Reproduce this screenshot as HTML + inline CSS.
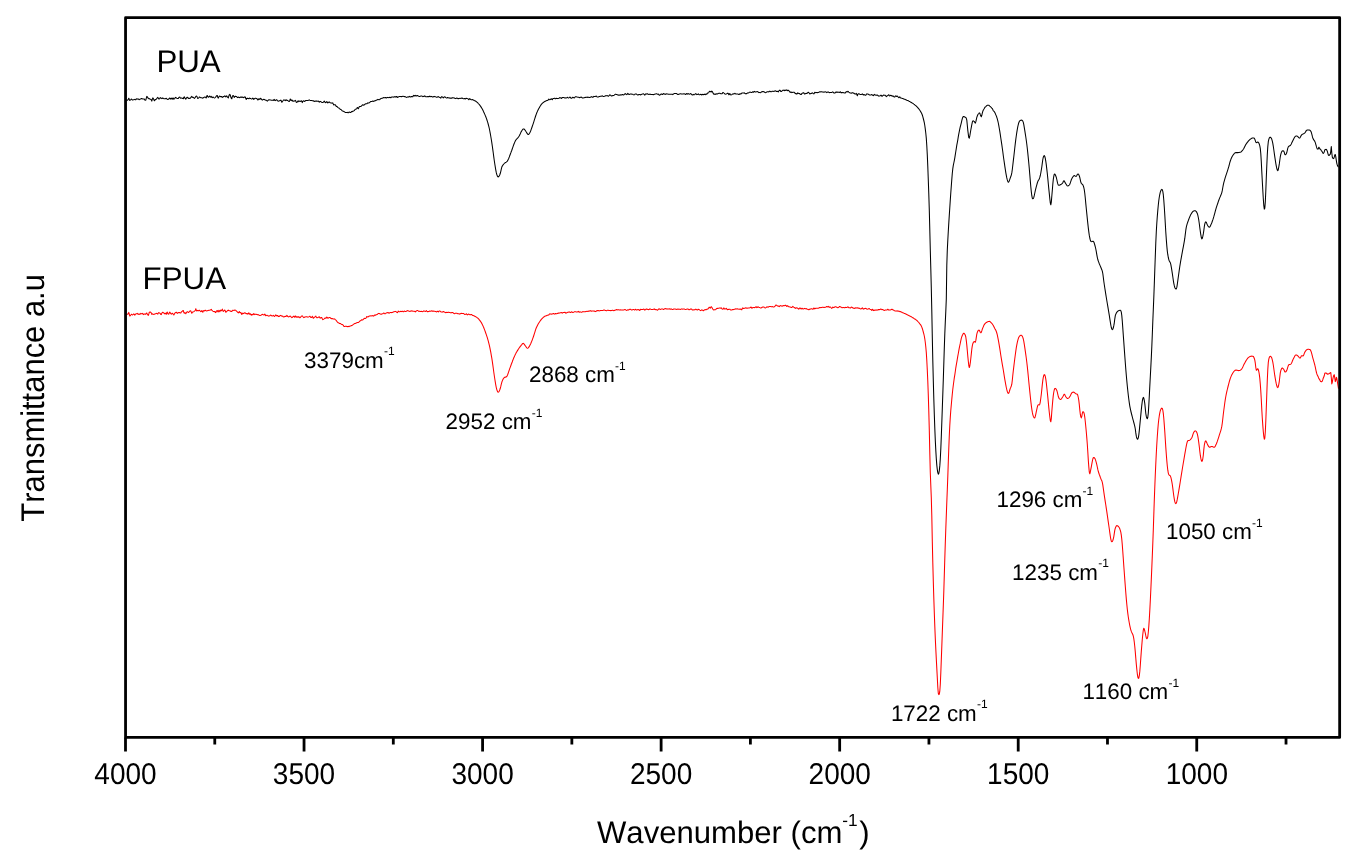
<!DOCTYPE html>
<html lang="en"><head><meta charset="utf-8"><title>FTIR spectra of PUA and FPUA</title>
<style>
html,body{margin:0;padding:0;background:#fff;}
body{width:1365px;height:863px;overflow:hidden;font-family:"Liberation Sans",Arial,sans-serif;}
svg{display:block;}
text{font-kerning:none;text-rendering:geometricPrecision;}
</style></head><body>
<svg width="1365" height="863" viewBox="0 0 1365 863">
<rect width="1365" height="863" fill="#fff"/>
<path d="M126.3,99.9 126.8,100.2 127.3,100.3 127.8,100.0 128.3,99.3 128.8,98.3 129.3,99.4 129.8,100.4 130.3,100.1 130.8,99.6 131.3,99.0 131.8,99.4 132.3,100.0 132.8,99.9 133.3,99.8 133.8,99.7 134.3,99.6 134.8,99.4 135.3,99.7 135.8,99.7 136.3,98.9 136.8,98.8 137.3,99.1 137.8,98.9 138.3,98.9 138.8,99.5 139.3,99.7 139.8,99.3 140.3,99.1 140.8,98.9 141.3,98.6 141.8,98.5 142.3,98.8 142.8,99.0 143.3,99.1 143.8,99.0 144.3,99.1 144.8,100.0 145.3,100.3 145.8,100.1 146.3,98.1 146.8,96.4 147.3,96.9 147.8,97.6 148.3,98.6 148.8,98.7 149.3,98.6 149.8,99.0 150.3,99.2 150.8,99.2 151.3,100.0 151.8,101.1 152.3,99.2 152.8,97.9 153.3,98.4 153.8,99.4 154.3,100.8 154.8,100.2 155.3,99.6 155.8,99.6 156.3,99.2 156.8,98.5 157.3,97.8 157.8,97.3 158.3,98.4 158.8,99.0 159.3,99.0 159.8,98.4 160.3,97.6 160.8,97.9 161.3,98.2 161.8,98.6 162.3,98.4 162.8,97.9 163.3,98.3 163.8,98.7 164.3,98.8 164.8,98.8 165.3,98.8 165.8,98.5 166.3,98.3 166.8,98.9 167.3,99.3 167.8,99.5 168.3,99.3 168.8,99.0 169.3,98.3 169.8,98.1 170.3,99.0 170.8,98.9 171.3,98.1 171.8,98.8 172.3,99.2 172.8,98.0 173.3,98.0 173.8,99.2 174.3,98.9 174.8,98.3 175.3,97.6 175.8,97.4 176.3,97.9 176.8,98.2 177.3,98.4 177.8,98.5 178.3,98.4 178.8,97.6 179.3,97.2 179.8,97.1 180.3,97.8 180.8,98.3 181.3,97.9 181.8,97.9 182.3,98.3 182.8,98.6 183.3,98.7 183.8,97.3 184.3,96.8 184.8,97.9 185.3,98.7 185.8,99.2 186.3,98.3 186.8,97.5 187.3,97.2 187.8,97.6 188.3,98.5 188.8,98.3 189.3,98.2 189.8,98.5 190.3,98.3 190.8,97.6 191.3,96.9 191.8,96.3 192.3,97.1 192.8,97.5 193.3,97.3 193.8,97.7 194.3,98.4 194.8,98.0 195.3,97.5 195.8,96.4 196.3,96.1 196.8,96.3 197.3,97.4 197.8,98.4 198.3,98.2 198.8,97.8 199.3,97.0 199.8,97.1 200.3,97.4 200.8,97.7 201.3,97.8 201.8,97.8 202.3,98.0 202.8,98.2 203.3,97.8 203.8,97.5 204.3,97.3 204.8,97.1 205.3,97.0 205.8,97.7 206.3,97.9 206.8,95.9 207.3,95.5 207.8,96.8 208.3,97.1 208.8,97.1 209.3,96.2 209.8,96.1 210.3,97.1 210.8,97.0 211.3,96.4 211.8,97.3 212.3,97.7 212.8,97.1 213.3,97.1 213.8,97.6 214.3,97.9 214.8,98.0 215.3,97.5 215.8,96.9 216.3,96.1 216.8,95.6 217.3,95.5 217.8,97.4 218.3,98.1 218.8,97.0 219.3,96.4 219.8,96.0 220.3,96.5 220.8,96.8 221.3,96.5 221.8,96.8 222.3,97.4 222.8,97.0 223.3,96.6 223.8,96.6 224.3,96.3 224.8,95.9 225.3,96.4 225.8,96.9 226.3,96.0 226.8,95.9 227.3,96.9 227.8,97.5 228.3,98.0 228.8,96.2 229.3,94.8 229.8,94.3 230.3,95.2 230.8,97.0 231.3,98.3 231.8,98.8 232.3,96.7 232.8,95.6 233.3,95.5 233.8,96.4 234.3,97.4 234.8,96.6 235.3,96.2 235.8,96.5 236.3,96.6 236.8,96.8 237.3,97.4 237.8,97.6 238.3,97.1 238.8,97.2 239.3,97.7 239.8,97.6 240.3,97.3 240.8,97.0 241.3,97.0 241.8,97.4 242.3,97.2 242.8,97.0 243.3,97.6 243.8,97.7 244.3,97.1 244.8,96.9 245.3,97.0 245.8,98.6 246.3,99.4 246.8,98.5 247.3,98.2 247.8,98.3 248.3,98.6 248.8,98.8 249.3,98.3 249.8,98.1 250.3,98.4 250.8,98.6 251.3,98.9 251.8,98.9 252.3,98.7 252.8,98.1 253.3,98.6 253.8,99.4 254.3,98.9 254.8,98.5 255.3,98.3 255.8,98.3 256.3,98.4 256.8,98.7 257.3,99.0 257.8,99.9 258.3,99.8 258.8,98.7 259.3,98.9 259.8,99.4 260.3,98.5 260.8,98.3 261.3,99.2 261.8,99.7 262.3,100.1 262.8,99.7 263.3,99.4 263.8,99.3 264.3,99.5 264.8,99.8 265.3,100.1 265.8,100.3 266.3,100.3 266.8,100.6 267.3,101.1 267.8,100.7 268.3,100.1 268.8,99.8 269.3,99.7 269.8,99.9 270.3,100.0 270.8,100.1 271.3,100.2 271.8,100.2 272.3,100.2 272.8,100.3 273.3,100.4 273.8,99.7 274.3,99.4 274.8,100.4 275.3,100.6 275.8,100.1 276.3,99.8 276.8,99.7 277.3,100.4 277.8,101.0 278.3,101.2 278.8,101.1 279.3,100.8 279.8,100.7 280.3,100.5 280.8,100.0 281.3,100.8 281.8,102.3 282.3,101.7 282.8,101.0 283.3,100.2 283.8,99.9 284.3,100.0 284.8,100.3 285.3,100.6 285.8,99.9 286.3,99.8 286.8,100.5 287.3,100.6 287.8,100.3 288.3,101.0 288.8,101.5 289.3,101.4 289.8,100.5 290.3,99.0 290.8,99.9 291.3,100.6 291.8,100.0 292.3,100.2 292.8,101.3 293.3,101.3 293.8,101.0 294.3,101.1 294.8,101.0 295.3,100.4 295.8,101.0 296.3,102.2 296.8,102.4 297.3,102.1 297.8,101.0 298.3,100.9 298.8,101.6 299.3,101.3 299.8,101.1 300.3,101.4 300.8,101.2 301.3,100.7 301.8,101.6 302.3,102.6 302.8,101.4 303.3,100.8 303.8,101.0 304.3,101.2 304.8,101.4 305.3,100.9 305.8,100.5 306.3,100.6 306.8,100.5 307.3,100.4 307.8,100.4 308.3,100.5 308.8,100.0 309.3,99.9 309.8,100.2 310.3,100.4 310.8,100.5 311.3,100.5 311.8,100.6 312.3,100.8 312.8,100.8 313.3,100.7 313.8,101.2 314.3,101.5 314.8,101.1 315.3,101.1 315.8,101.2 316.3,101.1 316.8,101.1 317.3,101.2 317.8,101.2 318.3,101.0 318.8,101.6 319.3,102.2 319.8,101.6 320.3,101.4 320.8,101.6 321.3,102.0 321.8,102.5 322.3,102.5 322.8,102.5 323.3,102.2 323.8,101.7 324.3,101.1 324.8,101.9 325.3,102.7 325.8,102.6 326.3,102.3 326.8,101.6 327.3,102.2 327.8,103.0 328.3,102.4 328.8,102.1 329.3,102.0 329.8,102.3 330.3,102.8 330.8,102.9 331.3,102.9 331.8,103.1 332.3,103.1 332.8,102.9 333.3,104.0 333.8,104.9 334.3,104.7 334.8,104.7 335.3,104.8 335.8,105.6 336.3,106.4 336.8,106.5 337.3,106.8 337.8,107.4 338.3,107.7 338.8,107.9 339.3,108.4 339.8,108.8 340.3,109.3 340.8,109.6 341.3,109.7 341.8,110.4 342.3,111.0 342.8,111.1 343.3,111.2 343.8,111.4 344.3,111.8 344.8,112.1 345.3,112.4 345.8,112.5 346.3,112.4 346.8,112.4 347.3,112.3 347.8,112.7 348.3,112.8 348.8,112.3 349.3,112.1 349.8,112.3 350.3,112.4 350.8,112.4 351.3,111.8 351.8,111.6 352.3,111.6 352.8,111.3 353.3,111.0 353.8,110.9 354.3,110.6 354.8,109.8 355.3,109.4 355.8,109.1 356.3,109.0 356.8,108.6 357.3,107.6 357.8,107.8 358.3,108.8 358.8,107.8 359.3,106.7 359.8,106.4 360.3,106.4 360.8,106.5 361.3,106.1 361.8,105.7 362.3,105.0 362.8,104.8 363.3,105.1 363.8,105.1 364.3,104.9 364.8,104.4 365.3,104.0 365.8,103.8 366.3,103.8 366.8,103.8 367.3,103.3 367.8,102.8 368.3,103.0 368.8,103.0 369.3,102.7 369.8,102.3 370.3,101.9 370.8,101.5 371.3,101.4 371.8,101.5 372.3,101.3 372.8,101.0 373.3,101.3 373.8,101.4 374.3,101.0 374.8,100.8 375.3,100.8 375.8,100.5 376.3,100.2 376.8,100.1 377.3,99.8 377.8,99.4 378.3,99.5 378.8,99.7 379.3,99.8 379.8,99.6 380.3,98.9 380.8,98.6 381.3,98.4 381.8,98.3 382.3,98.2 382.8,98.0 383.3,97.8 383.8,97.6 384.3,97.7 384.8,97.8 385.3,97.6 385.8,97.6 386.3,98.0 386.8,97.8 387.3,97.4 387.8,97.5 388.3,97.6 388.8,97.7 389.3,97.5 389.8,97.2 390.3,97.6 390.8,97.8 391.3,97.2 391.8,97.0 392.3,96.9 392.8,97.0 393.3,97.1 393.8,97.1 394.3,97.0 394.8,96.6 395.3,96.8 395.8,97.1 396.3,96.6 396.8,96.6 397.3,97.4 397.8,97.3 398.3,96.9 398.8,96.7 399.3,96.6 399.8,96.5 400.3,96.5 400.8,96.6 401.3,96.6 401.8,96.6 402.3,96.4 402.8,96.2 403.3,96.3 403.8,96.4 404.3,96.6 404.8,96.6 405.3,96.7 405.8,97.1 406.3,97.3 406.8,97.4 407.3,97.1 407.8,96.9 408.3,97.1 408.8,96.8 409.3,96.3 409.8,96.7 410.3,97.0 410.8,96.7 411.3,96.6 411.8,96.6 412.3,96.8 412.8,96.8 413.3,95.7 413.8,95.3 414.3,95.9 414.8,95.8 415.3,95.4 415.8,95.9 416.3,96.0 416.8,95.6 417.3,95.5 417.8,95.8 418.3,96.0 418.8,96.2 419.3,96.4 419.8,96.4 420.3,96.3 420.8,96.1 421.3,96.0 421.8,96.1 422.3,96.3 422.8,96.7 423.3,96.6 423.8,96.4 424.3,96.0 424.8,95.9 425.3,96.6 425.8,96.8 426.3,96.7 426.8,96.8 427.3,96.8 427.8,96.5 428.3,96.5 428.8,96.8 429.3,96.5 429.8,96.1 430.3,96.5 430.8,96.7 431.3,96.4 431.8,96.5 432.3,96.9 432.8,97.0 433.3,96.9 433.8,96.5 434.3,96.4 434.8,96.7 435.3,96.7 435.8,96.8 436.3,97.2 436.8,97.3 437.3,97.2 437.8,96.8 438.3,96.5 438.8,97.0 439.3,97.3 439.8,97.4 440.3,97.7 440.8,98.1 441.3,97.1 441.8,96.6 442.3,96.9 442.8,97.3 443.3,97.9 443.8,97.3 444.3,96.8 444.8,96.9 445.3,97.1 445.8,97.6 446.3,97.9 446.8,98.0 447.3,97.6 447.8,97.5 448.3,97.8 448.8,97.9 449.3,97.8 449.8,98.2 450.3,98.3 450.8,98.0 451.3,98.0 451.8,98.3 452.3,97.9 452.8,97.6 453.3,97.8 453.8,97.9 454.3,98.0 454.8,98.3 455.3,98.6 455.8,98.5 456.3,98.3 456.8,98.0 457.3,98.2 457.8,98.6 458.3,98.6 458.8,98.6 459.3,98.4 459.8,98.3 460.3,98.3 460.8,98.4 461.3,98.3 461.8,98.0 462.3,98.0 462.8,98.6 463.3,98.7 463.8,98.7 464.3,98.5 464.8,98.5 465.3,98.9 465.8,98.7 466.3,98.2 466.8,98.4 467.3,98.6 467.8,98.7 468.3,99.1 468.8,99.8 469.3,99.1 469.8,98.5 470.3,99.1 470.8,99.5 471.3,99.7 471.8,99.8 472.3,99.6 472.8,99.8 473.3,100.0 473.8,100.2 474.3,100.5 474.8,100.7 475.3,101.0 475.8,101.3 476.3,101.6 476.8,102.0 477.3,102.5 477.8,102.9 478.3,103.5 478.8,104.0 479.3,104.6 479.8,105.2 480.3,105.9 480.8,106.6 481.3,107.4 481.8,108.2 482.3,109.1 482.8,110.1 483.3,111.1 483.8,112.2 484.3,113.3 484.8,114.4 485.3,115.6 485.8,116.8 486.3,118.1 486.8,119.5 487.3,121.1 487.8,122.7 488.3,124.5 488.8,126.4 489.3,128.5 489.8,131.0 490.3,133.6 490.8,136.5 491.3,139.5 491.8,142.6 492.3,146.0 492.8,149.6 493.3,153.3 493.8,157.1 494.3,160.7 494.8,164.0 495.3,167.2 495.8,170.1 496.3,172.7 496.8,174.6 497.3,175.9 497.8,176.7 498.3,176.9 498.8,176.5 499.3,175.7 499.8,174.7 500.3,173.3 500.8,171.3 501.3,169.1 501.8,167.1 502.3,166.1 502.8,165.3 503.3,164.6 503.8,164.0 504.3,163.5 504.8,163.0 505.3,162.6 505.8,162.4 506.3,162.1 506.8,161.7 507.3,161.1 507.8,160.4 508.3,159.3 508.8,158.2 509.3,156.9 509.8,155.5 510.3,154.2 510.8,152.9 511.3,151.5 511.8,150.2 512.3,148.8 512.8,147.3 513.3,145.9 513.8,144.5 514.3,143.2 514.8,142.1 515.3,141.0 515.8,140.1 516.3,139.5 516.8,138.9 517.3,138.4 517.8,137.8 518.3,137.3 518.8,136.6 519.3,135.7 519.8,134.7 520.3,133.7 520.8,132.6 521.3,131.6 521.8,130.8 522.3,130.0 522.8,129.4 523.3,128.9 523.8,128.9 524.3,129.2 524.8,129.8 525.3,130.5 525.8,131.3 526.3,132.0 526.8,132.9 527.3,133.7 527.8,134.3 528.3,134.5 528.8,134.2 529.3,133.6 529.8,132.7 530.3,131.7 530.8,130.5 531.3,129.1 531.8,127.7 532.3,126.3 532.8,124.8 533.3,123.3 533.8,121.8 534.3,120.2 534.8,118.6 535.3,117.0 535.8,115.5 536.3,114.1 536.8,112.8 537.3,111.6 537.8,110.5 538.3,109.5 538.8,108.6 539.3,107.7 539.8,106.8 540.3,106.0 540.8,105.2 541.3,104.4 541.8,103.8 542.3,103.3 542.8,102.9 543.3,102.5 543.8,102.1 544.3,101.8 544.8,101.5 545.3,101.2 545.8,101.0 546.3,100.8 546.8,100.6 547.3,100.5 547.8,100.3 548.3,99.8 548.8,99.1 549.3,99.5 549.8,99.7 550.3,99.5 550.8,99.1 551.3,98.7 551.8,99.4 552.3,99.7 552.8,98.7 553.3,98.4 553.8,98.4 554.3,98.3 554.8,98.3 555.3,98.8 555.8,98.7 556.3,98.2 556.8,98.4 557.3,98.6 557.8,98.5 558.3,98.4 558.8,98.3 559.3,98.0 559.8,97.6 560.3,97.7 560.8,97.9 561.3,98.4 561.8,98.2 562.3,97.4 562.8,97.4 563.3,97.5 563.8,97.6 564.3,97.8 564.8,98.0 565.3,97.9 565.8,97.8 566.3,97.9 566.8,97.8 567.3,97.3 567.8,97.5 568.3,98.0 568.8,97.9 569.3,97.6 569.8,97.1 570.3,97.3 570.8,98.1 571.3,98.3 571.8,98.3 572.3,97.6 572.8,97.3 573.3,97.5 573.8,97.8 574.3,98.0 574.8,97.3 575.3,96.8 575.8,96.7 576.3,96.8 576.8,96.9 577.3,97.1 577.8,97.2 578.3,97.2 578.8,97.3 579.3,97.6 579.8,97.6 580.3,97.4 580.8,97.1 581.3,97.1 581.8,97.5 582.3,97.8 582.8,98.1 583.3,97.9 583.8,97.8 584.3,97.7 584.8,97.5 585.3,97.3 585.8,97.5 586.3,97.5 586.8,97.0 587.3,97.1 587.8,97.5 588.3,97.3 588.8,97.2 589.3,97.5 589.8,97.5 590.3,97.3 590.8,97.0 591.3,96.6 591.8,96.9 592.3,97.1 592.8,97.4 593.3,97.0 593.8,96.4 594.3,96.5 594.8,96.6 595.3,96.5 595.8,96.3 596.3,96.1 596.8,96.6 597.3,97.0 597.8,97.0 598.3,97.0 598.8,96.8 599.3,96.6 599.8,96.5 600.3,96.3 600.8,96.3 601.3,96.3 601.8,96.1 602.3,95.8 602.8,96.2 603.3,96.4 603.8,96.4 604.3,96.3 604.8,96.3 605.3,95.9 605.8,95.6 606.3,95.7 606.8,95.7 607.3,95.6 607.8,95.9 608.3,96.3 608.8,95.8 609.3,95.4 609.8,94.8 610.3,95.0 610.8,95.5 611.3,95.9 611.8,96.0 612.3,95.7 612.8,95.5 613.3,95.6 613.8,95.4 614.3,95.1 614.8,94.6 615.3,94.3 615.8,94.3 616.3,94.4 616.8,94.6 617.3,94.8 617.8,95.0 618.3,95.1 618.8,95.1 619.3,95.2 619.8,94.9 620.3,94.8 620.8,95.1 621.3,95.0 621.8,94.7 622.3,94.6 622.8,94.6 623.3,94.9 623.8,94.9 624.3,94.4 624.8,94.0 625.3,93.6 625.8,94.0 626.3,94.3 626.8,94.6 627.3,94.1 627.8,93.4 628.3,94.0 628.8,94.4 629.3,94.4 629.8,94.2 630.3,94.0 630.8,93.9 631.3,93.9 631.8,94.2 632.3,94.3 632.8,94.2 633.3,94.6 633.8,94.9 634.3,94.7 634.8,94.4 635.3,93.9 635.8,93.9 636.3,94.0 636.8,94.4 637.3,94.7 637.8,95.0 638.3,94.9 638.8,94.5 639.3,94.5 639.8,94.5 640.3,94.9 640.8,94.8 641.3,94.4 641.8,94.2 642.3,94.1 642.8,93.9 643.3,93.8 643.8,94.0 644.3,94.5 644.8,95.1 645.3,94.3 645.8,93.8 646.3,94.1 646.8,94.0 647.3,93.7 647.8,94.0 648.3,94.3 648.8,94.5 649.3,94.4 649.8,94.1 650.3,94.3 650.8,94.5 651.3,94.5 651.8,94.4 652.3,94.4 652.8,94.5 653.3,94.8 653.8,94.6 654.3,94.4 654.8,94.1 655.3,94.0 655.8,93.9 656.3,93.8 656.8,93.8 657.3,94.2 657.8,94.2 658.3,94.0 658.8,94.6 659.3,95.2 659.8,95.0 660.3,94.7 660.8,94.2 661.3,94.0 661.8,94.0 662.3,94.4 662.8,94.5 663.3,93.7 663.8,93.5 664.3,93.9 664.8,94.2 665.3,94.4 665.8,94.0 666.3,93.8 666.8,93.9 667.3,93.9 667.8,94.0 668.3,94.2 668.8,94.3 669.3,94.2 669.8,94.2 670.3,94.3 670.8,94.3 671.3,94.3 671.8,94.2 672.3,94.3 672.8,94.6 673.3,94.2 673.8,93.8 674.3,93.6 674.8,93.5 675.3,93.4 675.8,93.5 676.3,93.5 676.8,93.8 677.3,94.1 677.8,94.5 678.3,94.5 678.8,94.3 679.3,94.1 679.8,93.9 680.3,93.8 680.8,93.8 681.3,94.0 681.8,94.0 682.3,94.0 682.8,94.0 683.3,93.9 683.8,93.7 684.3,93.8 684.8,94.1 685.3,94.4 685.8,94.4 686.3,93.6 686.8,93.7 687.3,94.2 687.8,93.7 688.3,93.6 688.8,94.1 689.3,94.2 689.8,94.0 690.3,93.7 690.8,93.6 691.3,94.1 691.8,94.6 692.3,95.0 692.8,94.7 693.3,94.4 693.8,94.7 694.3,94.7 694.8,94.4 695.3,94.0 695.8,93.5 696.3,94.2 696.8,94.6 697.3,94.4 697.8,94.2 698.3,93.9 698.8,94.4 699.3,94.8 699.8,94.7 700.3,94.6 700.8,94.3 701.3,94.6 701.8,95.0 702.3,94.4 702.8,94.3 703.3,94.8 703.8,94.6 704.3,94.1 704.8,94.6 705.3,94.7 705.8,94.1 706.3,94.0 706.8,94.3 707.3,93.5 707.8,92.9 708.3,93.0 708.8,92.5 709.3,91.5 709.8,91.3 710.3,91.4 710.8,91.9 711.3,91.9 711.8,91.1 712.3,91.6 712.8,92.5 713.3,93.6 713.8,94.2 714.3,94.1 714.8,94.2 715.3,94.4 715.8,94.0 716.3,93.8 716.8,94.1 717.3,94.0 717.8,93.7 718.3,93.4 718.8,93.3 719.3,93.2 719.8,93.3 720.3,93.6 720.8,93.8 721.3,93.8 721.8,93.8 722.3,93.5 722.8,92.6 723.3,92.5 723.8,93.0 724.3,93.5 724.8,93.9 725.3,94.2 725.8,94.1 726.3,93.9 726.8,93.7 727.3,93.6 727.8,93.1 728.3,93.4 728.8,94.8 729.3,94.5 729.8,93.5 730.3,94.3 730.8,94.9 731.3,94.9 731.8,94.6 732.3,94.2 732.8,93.9 733.3,93.7 733.8,93.9 734.3,93.8 734.8,93.3 735.3,93.6 735.8,94.0 736.3,93.9 736.8,93.9 737.3,94.0 737.8,94.1 738.3,94.2 738.8,94.5 739.3,94.4 739.8,93.7 740.3,93.7 740.8,94.1 741.3,93.6 741.8,93.1 742.3,93.0 742.8,93.0 743.3,93.0 743.8,92.9 744.3,92.8 744.8,93.4 745.3,93.7 745.8,93.6 746.3,93.6 746.8,93.6 747.3,93.2 747.8,92.8 748.3,92.9 748.8,92.7 749.3,92.4 749.8,92.1 750.3,92.0 750.8,92.5 751.3,92.6 751.8,92.5 752.3,92.1 752.8,91.7 753.3,92.2 753.8,92.2 754.3,91.4 754.8,91.5 755.3,92.0 755.8,91.9 756.3,91.7 756.8,91.8 757.3,91.7 757.8,91.5 758.3,92.1 758.8,92.6 759.3,92.5 759.8,92.5 760.3,92.7 760.8,92.5 761.3,92.1 761.8,91.7 762.3,91.5 762.8,91.8 763.3,91.8 763.8,91.5 764.3,92.0 764.8,92.4 765.3,92.7 765.8,92.6 766.3,92.3 766.8,91.9 767.3,91.7 767.8,91.7 768.3,91.8 768.8,91.9 769.3,91.5 769.8,91.0 770.3,91.5 770.8,91.7 771.3,91.7 771.8,91.5 772.3,91.2 772.8,91.2 773.3,91.3 773.8,91.4 774.3,91.3 774.8,90.9 775.3,90.8 775.8,90.9 776.3,91.4 776.8,91.5 777.3,91.3 777.8,91.6 778.3,91.9 778.8,91.0 779.3,90.4 779.8,90.1 780.3,90.6 780.8,91.4 781.3,91.4 781.8,91.2 782.3,90.7 782.8,90.3 783.3,90.1 783.8,90.4 784.3,90.7 784.8,90.1 785.3,90.1 785.8,90.5 786.3,90.2 786.8,89.8 787.3,90.5 787.8,90.7 788.3,90.2 788.8,90.6 789.3,91.3 789.8,92.0 790.3,92.4 790.8,92.0 791.3,92.1 791.8,92.6 792.3,92.4 792.8,92.2 793.3,92.2 793.8,92.2 794.3,92.2 794.8,92.9 795.3,93.7 795.8,93.5 796.3,93.5 796.8,94.1 797.3,93.7 797.8,92.8 798.3,93.2 798.8,93.4 799.3,93.5 799.8,93.8 800.3,94.3 800.8,94.5 801.3,94.4 801.8,93.6 802.3,93.2 802.8,93.0 803.3,92.8 803.8,92.8 804.3,93.7 804.8,94.1 805.3,93.7 805.8,93.4 806.3,93.2 806.8,93.4 807.3,93.3 807.8,92.5 808.3,92.3 808.8,92.6 809.3,93.3 809.8,94.0 810.3,93.8 810.8,93.6 811.3,93.5 811.8,93.1 812.3,92.8 812.8,93.2 813.3,93.6 813.8,93.9 814.3,93.3 814.8,92.3 815.3,92.6 815.8,92.7 816.3,92.5 816.8,92.5 817.3,92.7 817.8,92.5 818.3,92.4 818.8,92.2 819.3,92.0 819.8,91.7 820.3,91.8 820.8,92.0 821.3,91.8 821.8,91.7 822.3,91.9 822.8,91.9 823.3,91.9 823.8,92.2 824.3,92.2 824.8,91.8 825.3,91.8 825.8,91.9 826.3,92.3 826.8,92.6 827.3,92.2 827.8,92.0 828.3,92.0 828.8,92.3 829.3,92.7 829.8,92.5 830.3,92.4 830.8,92.4 831.3,92.4 831.8,92.5 832.3,92.0 832.8,91.9 833.3,92.5 833.8,92.9 834.3,93.1 834.8,93.0 835.3,92.7 835.8,92.0 836.3,91.9 836.8,92.5 837.3,92.3 837.8,92.0 838.3,92.2 838.8,92.3 839.3,92.4 839.8,92.2 840.3,91.7 840.8,92.5 841.3,92.9 841.8,92.5 842.3,92.4 842.8,92.7 843.3,92.7 843.8,92.6 844.3,92.9 844.8,92.9 845.3,92.9 845.8,92.2 846.3,91.5 846.8,92.0 847.3,92.0 847.8,91.3 848.3,91.5 848.8,92.1 849.3,92.5 849.8,92.8 850.3,93.0 850.8,93.1 851.3,93.3 851.8,92.9 852.3,92.6 852.8,92.9 853.3,93.1 853.8,93.1 854.3,93.5 854.8,93.9 855.3,94.1 855.8,94.0 856.3,93.4 856.8,94.3 857.3,95.7 857.8,94.5 858.3,93.7 858.8,93.7 859.3,93.9 859.8,94.2 860.3,94.4 860.8,94.4 861.3,94.4 861.8,94.2 862.3,93.9 862.8,94.4 863.3,95.0 863.8,94.6 864.3,94.6 864.8,95.1 865.3,95.2 865.8,95.2 866.3,94.4 866.8,93.9 867.3,94.0 867.8,94.1 868.3,94.2 868.8,94.5 869.3,94.9 869.8,94.9 870.3,94.9 870.8,95.0 871.3,94.8 871.8,94.5 872.3,95.0 872.8,95.3 873.3,95.7 873.8,95.2 874.3,94.4 874.8,94.7 875.3,95.1 875.8,95.2 876.3,95.2 876.8,95.1 877.3,95.1 877.8,95.2 878.3,95.9 878.8,96.1 879.3,96.0 879.8,95.9 880.3,95.7 880.8,95.2 881.3,95.3 881.8,96.3 882.3,96.2 882.8,95.6 883.3,95.3 883.8,95.1 884.3,95.2 884.8,95.3 885.3,95.2 885.8,96.0 886.3,96.6 886.8,96.0 887.3,95.7 887.8,95.7 888.3,95.2 888.8,94.7 889.3,95.6 889.8,96.0 890.3,95.5 890.8,95.3 891.3,95.4 891.8,96.0 892.3,96.3 892.8,95.9 893.3,96.1 893.8,96.7 894.3,96.9 894.8,96.9 895.3,96.0 895.8,95.9 896.3,96.5 896.8,96.3 897.3,96.1 897.8,96.7 898.3,97.2 898.8,97.7 899.3,97.4 899.8,96.8 900.3,97.7 900.8,97.9 901.3,98.1 901.8,98.2 902.3,98.4 902.8,98.6 903.3,98.8 903.8,99.0 904.3,99.2 904.8,99.3 905.3,99.5 905.8,99.7 906.3,99.9 906.8,100.2 907.3,100.4 907.8,100.6 908.3,100.8 908.8,101.1 909.3,101.4 909.8,101.6 910.3,101.9 910.8,102.2 911.3,102.5 911.8,102.8 912.3,103.1 912.8,103.4 913.3,103.7 913.8,104.1 914.3,104.4 914.8,104.9 915.3,105.3 915.8,105.7 916.3,106.2 916.8,106.7 917.3,107.2 917.8,107.7 918.3,108.3 918.8,108.9 919.3,109.5 919.8,110.2 920.3,111.0 920.8,111.9 921.3,112.7 921.8,113.7 922.3,115.0 922.8,116.7 923.3,118.5 923.8,120.5 924.3,122.7 924.8,125.5 925.3,129.1 925.8,133.3 926.3,138.4 926.8,145.7 927.3,155.1 927.8,166.8 928.3,180.2 928.8,194.2 929.3,210.2 929.8,229.9 930.3,250.2 930.8,268.5 931.3,288.3 931.8,311.1 932.3,337.0 932.8,360.4 933.3,380.6 933.8,398.4 934.3,414.2 934.8,428.3 935.3,440.5 935.8,450.4 936.3,458.6 936.8,465.1 937.3,469.6 937.8,472.7 938.3,474.2 938.8,473.5 939.3,470.6 939.8,465.9 940.3,458.8 940.8,449.0 941.3,436.6 941.8,422.7 942.3,408.5 942.8,394.2 943.3,379.6 943.8,364.1 944.3,348.1 944.8,333.7 945.3,322.1 945.8,311.2 946.3,299.0 946.8,265.3 947.3,250.1 947.8,240.2 948.3,231.2 948.8,222.9 949.3,215.1 949.8,207.5 950.3,199.9 950.8,192.7 951.3,186.0 951.8,179.4 952.3,173.2 952.8,168.6 953.3,165.4 953.8,163.0 954.3,160.6 954.8,157.9 955.3,154.7 955.8,151.5 956.3,148.3 956.8,145.2 957.3,142.6 957.8,139.8 958.3,136.6 958.8,133.8 959.3,131.4 959.8,128.9 960.3,126.7 960.8,124.8 961.3,122.8 961.8,120.6 962.3,118.7 962.8,117.2 963.3,116.6 963.8,116.6 964.3,116.7 964.8,117.0 965.3,117.2 965.8,117.5 966.3,118.3 966.8,120.1 967.3,125.3 967.8,130.4 968.3,134.3 968.8,137.6 969.3,138.1 969.8,135.9 970.3,133.0 970.8,130.0 971.3,127.3 971.8,124.6 972.3,122.3 972.8,120.9 973.3,120.8 973.8,121.2 974.3,121.4 974.8,122.5 975.3,123.1 975.8,121.9 976.3,119.6 976.8,117.4 977.3,116.0 977.8,114.8 978.3,114.0 978.8,113.5 979.3,112.9 979.8,113.2 980.3,114.7 980.8,116.0 981.3,116.7 981.8,115.3 982.3,113.1 982.8,111.3 983.3,110.1 983.8,109.3 984.3,108.4 984.8,107.4 985.3,107.0 985.8,106.6 986.3,106.0 986.8,105.6 987.3,105.3 987.8,105.3 988.3,105.3 988.8,105.3 989.3,105.6 989.8,106.1 990.3,106.5 990.8,107.0 991.3,107.6 991.8,108.2 992.3,108.6 992.8,109.6 993.3,110.8 993.8,111.2 994.3,111.7 994.8,112.6 995.3,113.6 995.8,114.8 996.3,115.9 996.8,117.3 997.3,118.9 997.8,120.8 998.3,123.0 998.8,125.6 999.3,128.5 999.8,131.4 1000.3,134.6 1000.8,138.0 1001.3,141.4 1001.8,144.7 1002.3,148.2 1002.8,151.8 1003.3,155.8 1003.8,159.3 1004.3,162.6 1004.8,166.1 1005.3,169.4 1005.8,172.6 1006.3,175.4 1006.8,177.9 1007.3,179.9 1007.8,181.4 1008.3,182.3 1008.8,181.9 1009.3,180.8 1009.8,179.4 1010.3,177.9 1010.8,176.5 1011.3,175.1 1011.8,172.9 1012.3,169.5 1012.8,165.3 1013.3,160.9 1013.8,156.7 1014.3,152.2 1014.8,147.7 1015.3,143.4 1015.8,139.4 1016.3,135.7 1016.8,132.3 1017.3,129.3 1017.8,126.7 1018.3,124.5 1018.8,122.7 1019.3,121.5 1019.8,120.8 1020.3,120.4 1020.8,120.2 1021.3,120.1 1021.8,120.2 1022.3,120.5 1022.8,121.1 1023.3,122.4 1023.8,124.7 1024.3,127.6 1024.8,130.7 1025.3,133.8 1025.8,137.0 1026.3,140.5 1026.8,144.3 1027.3,148.5 1027.8,153.1 1028.3,158.1 1028.8,163.3 1029.3,168.7 1029.8,174.7 1030.3,180.9 1030.8,186.7 1031.3,191.6 1031.8,195.7 1032.3,198.2 1032.8,198.8 1033.3,198.6 1033.8,197.4 1034.3,195.4 1034.8,193.0 1035.3,190.6 1035.8,188.6 1036.3,186.6 1036.8,184.8 1037.3,183.0 1037.8,181.6 1038.3,180.6 1038.8,179.7 1039.3,178.7 1039.8,177.4 1040.3,175.5 1040.8,173.0 1041.3,170.0 1041.8,167.0 1042.3,163.1 1042.8,159.5 1043.3,157.2 1043.8,155.9 1044.3,155.6 1044.8,156.5 1045.3,158.4 1045.8,161.3 1046.3,164.9 1046.8,169.1 1047.3,173.5 1047.8,178.4 1048.3,183.7 1048.8,188.9 1049.3,193.6 1049.8,198.6 1050.3,202.9 1050.8,204.8 1051.3,202.1 1051.8,196.3 1052.3,190.5 1052.8,184.3 1053.3,179.4 1053.8,176.1 1054.3,174.2 1054.8,174.0 1055.3,174.7 1055.8,176.0 1056.3,177.4 1056.8,179.5 1057.3,181.8 1057.8,183.9 1058.3,185.1 1058.8,185.3 1059.3,185.3 1059.8,185.1 1060.3,184.8 1060.8,184.5 1061.3,184.2 1061.8,183.8 1062.3,183.4 1062.8,182.7 1063.3,181.5 1063.8,180.7 1064.3,181.0 1064.8,181.9 1065.3,182.9 1065.8,183.7 1066.3,184.5 1066.8,185.3 1067.3,185.8 1067.8,185.9 1068.3,185.8 1068.8,185.5 1069.3,185.0 1069.8,184.2 1070.3,182.9 1070.8,181.3 1071.3,179.8 1071.8,178.7 1072.3,177.8 1072.8,177.0 1073.3,176.3 1073.8,175.8 1074.3,175.6 1074.8,175.7 1075.3,176.1 1075.8,176.4 1076.3,176.2 1076.8,175.5 1077.3,174.6 1077.8,174.0 1078.3,174.0 1078.8,174.7 1079.3,175.9 1079.8,177.5 1080.3,179.8 1080.8,182.1 1081.3,183.3 1081.8,183.9 1082.3,184.2 1082.8,184.8 1083.3,185.9 1083.8,187.5 1084.3,189.9 1084.8,193.5 1085.3,198.3 1085.8,203.6 1086.3,208.7 1086.8,213.6 1087.3,218.6 1087.8,223.4 1088.3,227.9 1088.8,231.9 1089.3,235.4 1089.8,238.0 1090.3,240.0 1090.8,241.3 1091.3,241.7 1091.8,241.6 1092.3,241.4 1092.8,241.2 1093.3,241.3 1093.8,242.0 1094.3,243.3 1094.8,245.0 1095.3,246.9 1095.8,249.0 1096.3,251.7 1096.8,254.6 1097.3,257.3 1097.8,259.5 1098.3,261.1 1098.8,262.4 1099.3,263.7 1099.8,264.9 1100.3,266.1 1100.8,267.3 1101.3,268.5 1101.8,269.7 1102.3,271.2 1102.8,273.5 1103.3,277.2 1103.8,281.2 1104.3,284.7 1104.8,288.0 1105.3,291.2 1105.8,294.4 1106.3,297.5 1106.8,300.5 1107.3,303.5 1107.8,306.4 1108.3,309.4 1108.8,312.3 1109.3,315.3 1109.8,318.6 1110.3,321.9 1110.8,325.0 1111.3,327.5 1111.8,329.0 1112.3,329.6 1112.8,329.2 1113.3,327.8 1113.8,325.7 1114.3,322.8 1114.8,318.8 1115.3,315.7 1115.8,314.2 1116.3,313.1 1116.8,312.3 1117.3,311.7 1117.8,311.2 1118.3,310.9 1118.8,310.6 1119.3,310.4 1119.8,310.3 1120.3,310.3 1120.8,310.6 1121.3,312.2 1121.8,315.6 1122.3,321.2 1122.8,328.1 1123.3,335.2 1123.8,342.1 1124.3,349.1 1124.8,356.0 1125.3,362.8 1125.8,369.2 1126.3,375.2 1126.8,380.8 1127.3,386.0 1127.8,390.8 1128.3,395.2 1128.8,399.2 1129.3,402.9 1129.8,406.1 1130.3,408.7 1130.8,411.0 1131.3,413.0 1131.8,415.0 1132.3,416.9 1132.8,418.8 1133.3,420.7 1133.8,422.5 1134.3,424.3 1134.8,426.3 1135.3,429.0 1135.8,432.9 1136.3,436.2 1136.8,438.1 1137.3,439.1 1137.8,439.1 1138.3,437.9 1138.8,435.0 1139.3,430.6 1139.8,425.4 1140.3,420.2 1140.8,415.1 1141.3,409.9 1141.8,405.1 1142.3,401.2 1142.8,398.6 1143.3,397.4 1143.8,398.1 1144.3,400.4 1144.8,403.6 1145.3,408.6 1145.8,413.5 1146.3,416.4 1146.8,418.2 1147.3,418.7 1147.8,417.3 1148.3,413.0 1148.8,405.4 1149.3,396.0 1149.8,386.1 1150.3,376.7 1150.8,367.4 1151.3,357.6 1151.8,346.8 1152.3,334.4 1152.8,321.6 1153.3,309.6 1153.8,297.5 1154.3,284.1 1154.8,269.8 1155.3,255.9 1155.8,242.6 1156.3,231.7 1156.8,223.3 1157.3,216.4 1157.8,210.4 1158.3,205.0 1158.8,200.5 1159.3,197.0 1159.8,194.3 1160.3,192.1 1160.8,190.7 1161.3,189.8 1161.8,189.4 1162.3,189.7 1162.8,191.4 1163.3,194.7 1163.8,200.2 1164.3,207.2 1164.8,215.0 1165.3,223.7 1165.8,232.2 1166.3,239.4 1166.8,245.9 1167.3,251.1 1167.8,254.7 1168.3,257.5 1168.8,259.5 1169.3,261.0 1169.8,261.8 1170.3,262.7 1170.8,264.4 1171.3,267.1 1171.8,270.2 1172.3,273.3 1172.8,276.8 1173.3,280.3 1173.8,283.3 1174.3,285.7 1174.8,287.5 1175.3,288.4 1175.8,289.0 1176.3,288.9 1176.8,287.4 1177.3,284.3 1177.8,280.6 1178.3,277.0 1178.8,273.5 1179.3,269.9 1179.8,266.5 1180.3,263.3 1180.8,260.4 1181.3,257.6 1181.8,254.9 1182.3,252.1 1182.8,249.4 1183.3,246.8 1183.8,244.1 1184.3,241.4 1184.8,238.2 1185.3,234.1 1185.8,230.2 1186.3,227.2 1186.8,225.2 1187.3,223.4 1187.8,222.0 1188.3,220.6 1188.8,219.2 1189.3,217.9 1189.8,216.7 1190.3,215.6 1190.8,214.6 1191.3,213.7 1191.8,212.9 1192.3,212.2 1192.8,211.6 1193.3,211.2 1193.8,210.9 1194.3,210.8 1194.8,210.7 1195.3,210.8 1195.8,211.1 1196.3,211.6 1196.8,212.4 1197.3,213.4 1197.8,215.1 1198.3,217.5 1198.8,220.2 1199.3,223.7 1199.8,227.7 1200.3,231.4 1200.8,234.7 1201.3,237.5 1201.8,238.9 1202.3,238.4 1202.8,236.4 1203.3,233.9 1203.8,230.6 1204.3,226.7 1204.8,223.9 1205.3,222.4 1205.8,221.8 1206.3,222.3 1206.8,223.6 1207.3,224.8 1207.8,225.7 1208.3,226.4 1208.8,227.0 1209.3,227.2 1209.8,226.9 1210.3,226.1 1210.8,225.1 1211.3,223.9 1211.8,222.7 1212.3,221.3 1212.8,219.9 1213.3,218.3 1213.8,216.7 1214.3,214.9 1214.8,213.1 1215.3,211.2 1215.8,209.4 1216.3,207.7 1216.8,206.1 1217.3,204.6 1217.8,203.2 1218.3,201.7 1218.8,200.3 1219.3,198.9 1219.8,197.6 1220.3,196.5 1220.8,195.3 1221.3,194.1 1221.8,192.6 1222.3,190.4 1222.8,187.5 1223.3,184.8 1223.8,182.7 1224.3,180.8 1224.8,179.1 1225.3,177.4 1225.8,175.8 1226.3,174.3 1226.8,172.8 1227.3,171.3 1227.8,169.8 1228.3,168.2 1228.8,166.5 1229.3,164.6 1229.8,162.7 1230.3,161.0 1230.8,159.6 1231.3,158.3 1231.8,157.2 1232.3,156.3 1232.8,155.5 1233.3,154.8 1233.8,154.1 1234.3,153.5 1234.8,153.0 1235.3,152.7 1235.8,152.6 1236.3,152.6 1236.8,152.6 1237.3,152.6 1237.8,152.6 1238.3,152.6 1238.8,152.5 1239.3,152.4 1239.8,152.3 1240.3,152.2 1240.8,152.0 1241.3,151.7 1241.8,151.2 1242.3,150.7 1242.8,150.0 1243.3,149.3 1243.8,148.5 1244.3,147.5 1244.8,146.5 1245.3,145.5 1245.8,144.6 1246.3,143.8 1246.8,143.1 1247.3,142.4 1247.8,141.8 1248.3,141.2 1248.8,140.6 1249.3,140.1 1249.8,139.6 1250.3,139.2 1250.8,138.9 1251.3,138.5 1251.8,138.3 1252.3,138.1 1252.8,138.0 1253.3,138.0 1253.8,138.1 1254.3,138.3 1254.8,139.2 1255.3,140.7 1255.8,142.2 1256.3,142.7 1256.8,142.6 1257.3,142.3 1257.8,142.1 1258.3,142.2 1258.8,143.0 1259.3,144.2 1259.8,145.8 1260.3,148.6 1260.8,153.7 1261.3,161.9 1261.8,171.9 1262.3,181.2 1262.8,190.3 1263.3,198.7 1263.8,205.4 1264.3,209.1 1264.8,208.3 1265.3,202.0 1265.8,190.9 1266.3,177.5 1266.8,165.5 1267.3,154.4 1267.8,146.6 1268.3,141.7 1268.8,139.4 1269.3,138.0 1269.8,137.2 1270.3,137.2 1270.8,137.5 1271.3,138.2 1271.8,139.3 1272.3,141.1 1272.8,143.4 1273.3,146.3 1273.8,149.8 1274.3,153.4 1274.8,156.9 1275.3,160.2 1275.8,163.3 1276.3,166.1 1276.8,168.5 1277.3,170.2 1277.8,170.7 1278.3,169.5 1278.8,166.8 1279.3,163.9 1279.8,160.2 1280.3,156.7 1280.8,154.3 1281.3,152.6 1281.8,151.5 1282.3,150.9 1282.8,150.7 1283.3,150.8 1283.8,151.2 1284.3,152.4 1284.8,154.4 1285.3,154.8 1285.8,154.5 1286.3,153.7 1286.8,152.5 1287.3,150.4 1287.8,148.1 1288.3,146.9 1288.8,146.3 1289.3,146.1 1289.8,145.8 1290.3,145.5 1290.8,144.8 1291.3,143.9 1291.8,142.8 1292.3,141.7 1292.8,140.7 1293.3,139.7 1293.8,138.7 1294.3,137.8 1294.8,137.0 1295.3,136.4 1295.8,136.1 1296.3,136.0 1296.8,136.1 1297.3,136.2 1297.8,136.6 1298.3,137.1 1298.8,137.7 1299.3,138.1 1299.8,138.0 1300.3,137.3 1300.8,136.3 1301.3,135.3 1301.8,134.7 1302.3,134.4 1302.8,134.1 1303.3,133.9 1303.8,133.6 1304.3,133.3 1304.8,132.9 1305.3,132.3 1305.8,131.4 1306.3,130.6 1306.8,130.2 1307.3,130.0 1307.8,129.9 1308.3,129.9 1308.8,129.9 1309.3,130.0 1309.8,130.2 1310.3,130.6 1310.8,131.3 1311.3,132.3 1311.8,134.1 1312.3,136.2 1312.8,138.0 1313.3,139.1 1313.8,139.9 1314.3,140.6 1314.8,141.4 1315.3,142.6 1315.8,144.3 1316.3,146.2 1316.8,147.9 1317.3,149.0 1317.8,149.1 1318.3,148.9 1318.8,147.2 1319.3,147.8 1319.8,148.9 1320.3,149.1 1320.8,149.7 1321.3,150.6 1321.8,151.2 1322.3,151.9 1322.8,153.1 1323.3,153.4 1323.8,152.7 1324.3,151.7 1324.8,150.0 1325.3,149.4 1325.8,149.5 1326.3,149.4 1326.8,150.1 1327.3,151.2 1327.8,153.1 1328.3,154.9 1328.8,155.5 1329.3,155.3 1329.8,154.7 1330.3,154.1 1330.8,151.1 1331.3,146.5 1331.8,153.0 1332.3,157.0 1332.8,158.2 1333.3,158.6 1333.8,158.4 1334.3,156.9 1334.8,154.9 1335.3,154.5 1335.8,156.9 1336.3,160.4 1336.8,163.3 1337.3,165.0 1337.8,166.3 1338.3,167.0 1338.5,167.2" fill="none" stroke="#000" stroke-width="1.05" stroke-linejoin="round"/>
<path d="M126.3,314.8 126.8,314.4 127.3,314.1 127.8,314.1 128.3,313.5 128.8,312.4 129.3,314.3 129.8,316.0 130.3,315.6 130.8,315.0 131.3,314.2 131.8,314.5 132.3,315.0 132.8,314.7 133.3,314.3 133.8,313.9 134.3,314.3 134.8,315.1 135.3,314.4 135.8,313.9 136.3,313.8 136.8,313.7 137.3,313.4 137.8,314.0 138.3,314.4 138.8,314.1 139.3,314.1 139.8,314.4 140.3,314.0 140.8,313.4 141.3,313.8 141.8,313.8 142.3,313.3 142.8,313.7 143.3,314.6 143.8,314.3 144.3,314.0 144.8,314.1 145.3,314.1 145.8,314.1 146.3,313.4 146.8,313.0 147.3,314.0 147.8,314.8 148.3,315.4 148.8,314.0 149.3,312.2 149.8,312.1 150.3,312.1 150.8,312.2 151.3,313.1 151.8,314.4 152.3,314.0 152.8,313.8 153.3,314.3 153.8,314.4 154.3,314.2 154.8,313.9 155.3,313.7 155.8,313.7 156.3,313.6 156.8,313.3 157.3,313.7 157.8,314.1 158.3,313.0 158.8,312.5 159.3,312.9 159.8,313.2 160.3,313.6 160.8,314.4 161.3,314.6 161.8,313.2 162.3,312.5 162.8,312.3 163.3,312.6 163.8,312.9 164.3,313.7 164.8,313.8 165.3,313.2 165.8,313.7 166.3,314.3 166.8,312.5 167.3,312.1 167.8,313.7 168.3,314.2 168.8,314.1 169.3,312.8 169.8,312.1 170.3,312.9 170.8,313.6 171.3,314.1 171.8,313.6 172.3,313.2 172.8,313.7 173.3,314.3 173.8,315.0 174.3,314.2 174.8,313.1 175.3,312.8 175.8,312.5 176.3,312.2 176.8,312.7 177.3,313.4 177.8,312.9 178.3,312.6 178.8,312.6 179.3,312.6 179.8,312.6 180.3,312.9 180.8,313.0 181.3,312.1 181.8,311.5 182.3,311.2 182.8,310.7 183.3,310.5 183.8,312.4 184.3,313.3 184.8,312.6 185.3,312.9 185.8,313.7 186.3,312.8 186.8,312.1 187.3,311.7 187.8,311.8 188.3,312.4 188.8,312.2 189.3,311.8 189.8,311.1 190.3,310.8 190.8,311.0 191.3,312.1 191.8,313.3 192.3,312.4 192.8,311.9 193.3,311.9 193.8,311.6 194.3,311.2 194.8,310.9 195.3,310.4 195.8,308.7 196.3,310.0 196.8,311.0 197.3,310.6 197.8,310.4 198.3,310.7 198.8,310.7 199.3,310.2 199.8,310.6 200.3,311.2 200.8,311.7 201.3,311.6 201.8,310.5 202.3,311.1 202.8,312.3 203.3,311.1 203.8,310.5 204.3,310.9 204.8,310.8 205.3,310.2 205.8,310.5 206.3,310.7 206.8,310.9 207.3,310.8 207.8,310.6 208.3,310.4 208.8,310.2 209.3,310.3 209.8,310.2 210.3,310.1 210.8,309.8 211.3,309.4 211.8,310.1 212.3,310.7 212.8,311.1 213.3,311.4 213.8,311.6 214.3,311.5 214.8,311.6 215.3,312.6 215.8,312.5 216.3,311.3 216.8,310.8 217.3,310.5 217.8,311.8 218.3,311.9 218.8,310.3 219.3,310.6 219.8,311.7 220.3,310.7 220.8,310.1 221.3,310.8 221.8,310.4 222.3,309.1 222.8,310.4 223.3,311.5 223.8,310.9 224.3,310.4 224.8,310.0 225.3,311.0 225.8,312.3 226.3,311.8 226.8,311.3 227.3,310.9 227.8,310.5 228.3,310.1 228.8,310.5 229.3,310.7 229.8,310.7 230.3,310.9 230.8,311.4 231.3,311.5 231.8,311.4 232.3,310.6 232.8,310.2 233.3,310.3 233.8,310.4 234.3,310.4 234.8,310.0 235.3,310.0 235.8,310.5 236.3,310.9 236.8,311.3 237.3,311.9 237.8,312.4 238.3,312.9 238.8,312.5 239.3,311.5 239.8,312.2 240.3,312.9 240.8,312.5 241.3,313.0 241.8,314.5 242.3,314.0 242.8,313.1 243.3,313.6 243.8,313.5 244.3,312.9 244.8,312.7 245.3,312.9 245.8,313.5 246.3,313.8 246.8,313.5 247.3,313.7 247.8,314.2 248.3,313.3 248.8,312.8 249.3,314.0 249.8,314.3 250.3,313.7 250.8,314.4 251.3,315.2 251.8,314.5 252.3,314.3 252.8,314.9 253.3,314.4 253.8,313.6 254.3,314.3 254.8,314.6 255.3,314.2 255.8,314.2 256.3,314.3 256.8,314.6 257.3,314.7 257.8,314.6 258.3,314.7 258.8,315.0 259.3,315.2 259.8,315.4 260.3,315.4 260.8,315.3 261.3,315.1 261.8,314.7 262.3,314.3 262.8,314.5 263.3,314.8 263.8,315.0 264.3,314.7 264.8,314.1 265.3,314.9 265.8,315.7 266.3,315.4 266.8,315.3 267.3,315.3 267.8,315.7 268.3,316.1 268.8,316.0 269.3,315.9 269.8,315.8 270.3,315.4 270.8,315.0 271.3,315.5 271.8,315.9 272.3,315.9 272.8,315.7 273.3,315.3 273.8,315.9 274.3,316.4 274.8,316.2 275.3,315.7 275.8,314.9 276.3,315.3 276.8,316.0 277.3,315.5 277.8,315.6 278.3,316.4 278.8,316.6 279.3,316.5 279.8,315.9 280.3,315.4 280.8,315.5 281.3,315.8 281.8,316.2 282.3,316.1 282.8,316.2 283.3,316.8 283.8,317.0 284.3,316.8 284.8,316.5 285.3,316.2 285.8,316.5 286.3,316.3 286.8,315.4 287.3,315.8 287.8,316.6 288.3,316.8 288.8,316.9 289.3,316.5 289.8,316.3 290.3,316.1 290.8,316.6 291.3,317.0 291.8,317.6 292.3,317.5 292.8,316.9 293.3,316.4 293.8,316.1 294.3,317.1 294.8,317.2 295.3,316.0 295.8,316.3 296.3,317.2 296.8,316.8 297.3,316.7 297.8,317.3 298.3,317.2 298.8,316.6 299.3,317.3 299.8,317.8 300.3,317.5 300.8,316.9 301.3,316.2 301.8,316.0 302.3,315.9 302.8,316.5 303.3,317.1 303.8,317.6 304.3,317.4 304.8,317.0 305.3,316.9 305.8,316.8 306.3,316.7 306.8,316.8 307.3,317.1 307.8,317.0 308.3,316.9 308.8,316.9 309.3,316.6 309.8,316.2 310.3,316.7 310.8,317.5 311.3,317.5 311.8,317.2 312.3,316.3 312.8,317.0 313.3,318.3 313.8,317.8 314.3,317.4 314.8,317.0 315.3,316.6 315.8,316.1 316.3,317.0 316.8,317.8 317.3,317.8 317.8,317.6 318.3,317.3 318.8,316.9 319.3,316.7 319.8,317.8 320.3,318.2 320.8,317.7 321.3,317.5 321.8,317.6 322.3,318.8 322.8,319.6 323.3,319.4 323.8,319.1 324.3,318.7 324.8,318.2 325.3,317.9 325.8,318.3 326.3,318.0 326.8,317.0 327.3,317.5 327.8,318.3 328.3,318.0 328.8,317.7 329.3,317.6 329.8,317.5 330.3,317.8 330.8,318.3 331.3,318.6 331.8,318.6 332.3,318.6 332.8,318.7 333.3,318.9 333.8,319.0 334.3,318.9 334.8,319.1 335.3,319.6 335.8,320.0 336.3,320.5 336.8,321.3 337.3,321.9 337.8,322.5 338.3,322.8 338.8,322.9 339.3,323.4 339.8,323.6 340.3,323.5 340.8,323.8 341.3,324.2 341.8,324.4 342.3,324.6 342.8,324.8 343.3,325.3 343.8,326.3 344.3,326.5 344.8,326.5 345.3,326.3 345.8,326.2 346.3,326.3 346.8,326.5 347.3,326.7 347.8,326.4 348.3,326.3 348.8,326.7 349.3,326.5 349.8,326.0 350.3,326.0 350.8,326.0 351.3,325.6 351.8,325.4 352.3,325.2 352.8,324.9 353.3,324.4 353.8,324.1 354.3,323.8 354.8,323.6 355.3,323.4 355.8,323.2 356.3,323.0 356.8,322.8 357.3,322.6 357.8,322.5 358.3,322.5 358.8,322.1 359.3,321.6 359.8,321.1 360.3,320.8 360.8,320.7 361.3,320.2 361.8,319.7 362.3,319.9 362.8,319.9 363.3,319.4 363.8,318.9 364.3,318.2 364.8,318.4 365.3,318.5 365.8,318.3 366.3,317.6 366.8,316.6 367.3,316.7 367.8,316.9 368.3,316.8 368.8,316.5 369.3,315.9 369.8,315.9 370.3,315.9 370.8,315.7 371.3,315.7 371.8,315.9 372.3,315.8 372.8,315.6 373.3,316.0 373.8,316.1 374.3,315.2 374.8,315.0 375.3,315.3 375.8,315.0 376.3,314.7 376.8,314.6 377.3,314.4 377.8,313.9 378.3,313.6 378.8,313.4 379.3,313.6 379.8,313.8 380.3,314.1 380.8,314.2 381.3,314.3 381.8,314.0 382.3,313.8 382.8,313.7 383.3,313.4 383.8,313.0 384.3,313.4 384.8,313.8 385.3,313.7 385.8,313.4 386.3,312.9 386.8,312.8 387.3,312.8 387.8,312.6 388.3,312.6 388.8,313.1 389.3,313.1 389.8,312.8 390.3,312.6 390.8,312.5 391.3,312.6 391.8,312.6 392.3,312.5 392.8,312.3 393.3,312.1 393.8,311.8 394.3,311.7 394.8,311.6 395.3,311.5 395.8,311.4 396.3,311.9 396.8,312.3 397.3,312.7 397.8,312.1 398.3,311.1 398.8,311.5 399.3,311.8 399.8,311.8 400.3,311.6 400.8,311.2 401.3,311.4 401.8,311.6 402.3,311.2 402.8,311.3 403.3,311.8 403.8,311.5 404.3,311.1 404.8,311.3 405.3,311.4 405.8,311.5 406.3,311.3 406.8,311.1 407.3,310.7 407.8,310.6 408.3,310.9 408.8,311.1 409.3,311.4 409.8,311.3 410.3,311.1 410.8,311.2 411.3,311.1 411.8,310.8 412.3,310.9 412.8,311.2 413.3,311.3 413.8,311.3 414.3,311.2 414.8,311.4 415.3,311.9 415.8,311.4 416.3,311.0 416.8,310.8 417.3,310.6 417.8,310.5 418.3,311.0 418.8,311.5 419.3,311.2 419.8,311.2 420.3,311.4 420.8,311.4 421.3,311.3 421.8,311.6 422.3,311.7 422.8,311.6 423.3,311.3 423.8,310.9 424.3,311.1 424.8,311.3 425.3,311.4 425.8,311.2 426.3,310.6 426.8,311.2 427.3,311.7 427.8,311.6 428.3,311.6 428.8,311.5 429.3,311.3 429.8,311.1 430.3,311.2 430.8,311.2 431.3,310.8 431.8,311.0 432.3,311.3 432.8,311.1 433.3,311.1 433.8,311.3 434.3,311.3 434.8,311.2 435.3,311.4 435.8,311.6 436.3,311.9 436.8,311.7 437.3,311.2 437.8,311.5 438.3,312.0 438.8,311.3 439.3,310.9 439.8,310.9 440.3,311.3 440.8,311.8 441.3,311.9 441.8,312.0 442.3,312.1 442.8,311.9 443.3,311.5 443.8,311.8 444.3,312.1 444.8,312.2 445.3,312.4 445.8,312.7 446.3,312.6 446.8,312.3 447.3,312.5 447.8,312.5 448.3,312.2 448.8,312.3 449.3,312.5 449.8,312.5 450.3,312.6 450.8,312.9 451.3,312.8 451.8,312.5 452.3,312.5 452.8,312.6 453.3,313.0 453.8,313.4 454.3,313.7 454.8,313.5 455.3,313.3 455.8,313.3 456.3,313.3 456.8,313.2 457.3,313.4 457.8,313.8 458.3,313.7 458.8,313.7 459.3,314.1 459.8,314.0 460.3,313.7 460.8,313.5 461.3,313.3 461.8,313.4 462.3,313.5 462.8,313.4 463.3,313.4 463.8,313.5 464.3,314.1 464.8,314.5 465.3,314.4 465.8,314.1 466.3,313.7 466.8,314.4 467.3,314.9 467.8,314.6 468.3,314.3 468.8,314.1 469.3,314.4 469.8,314.7 470.3,314.7 470.8,314.6 471.3,314.6 471.8,314.5 472.3,315.2 472.8,315.4 473.3,315.6 473.8,315.8 474.3,316.0 474.8,316.3 475.3,316.6 475.8,316.8 476.3,317.1 476.8,317.4 477.3,317.8 477.8,318.2 478.3,318.7 478.8,319.2 479.3,319.8 479.8,320.4 480.3,321.1 480.8,321.8 481.3,322.6 481.8,323.4 482.3,324.4 482.8,325.5 483.3,326.6 483.8,327.8 484.3,329.1 484.8,330.4 485.3,331.8 485.8,333.2 486.3,334.6 486.8,336.1 487.3,337.7 487.8,339.4 488.3,341.2 488.8,343.1 489.3,345.1 489.8,347.3 490.3,349.8 490.8,352.4 491.3,355.3 491.8,358.2 492.3,361.4 492.8,364.8 493.3,368.5 493.8,372.2 494.3,375.7 494.8,379.0 495.3,382.1 495.8,385.1 496.3,387.6 496.8,389.6 497.3,391.1 497.8,392.0 498.3,392.2 498.8,391.8 499.3,390.9 499.8,389.7 500.3,388.3 500.8,386.4 501.3,384.2 501.8,382.3 502.3,380.9 502.8,379.8 503.3,378.8 503.8,378.1 504.3,377.5 504.8,377.2 505.3,377.1 505.8,377.1 506.3,376.9 506.8,376.4 507.3,375.5 507.8,374.3 508.3,372.9 508.8,371.4 509.3,369.9 509.8,368.4 510.3,367.1 510.8,365.7 511.3,364.3 511.8,363.0 512.3,361.7 512.8,360.3 513.3,359.1 513.8,357.8 514.3,356.7 514.8,355.6 515.3,354.5 515.8,353.6 516.3,352.6 516.8,351.7 517.3,350.9 517.8,350.1 518.3,349.3 518.8,348.5 519.3,347.8 519.8,347.1 520.3,346.4 520.8,345.8 521.3,345.2 521.8,344.6 522.3,343.9 522.8,343.4 523.3,343.3 523.8,343.7 524.3,344.4 524.8,345.1 525.3,345.8 525.8,346.5 526.3,347.2 526.8,347.8 527.3,348.2 527.8,348.2 528.3,347.8 528.8,347.2 529.3,346.4 529.8,345.5 530.3,344.6 530.8,343.5 531.3,342.3 531.8,341.1 532.3,339.8 532.8,338.4 533.3,337.0 533.8,335.5 534.3,333.9 534.8,332.3 535.3,330.7 535.8,329.2 536.3,327.8 536.8,326.7 537.3,325.7 537.8,324.7 538.3,323.8 538.8,323.0 539.3,322.2 539.8,321.5 540.3,320.8 540.8,320.1 541.3,319.4 541.8,318.8 542.3,318.3 542.8,317.8 543.3,317.4 543.8,317.0 544.3,316.6 544.8,316.3 545.3,316.1 545.8,315.9 546.3,315.7 546.8,315.5 547.3,315.3 547.8,315.2 548.3,315.0 548.8,315.0 549.3,314.2 549.8,313.8 550.3,314.0 550.8,314.1 551.3,314.3 551.8,314.1 552.3,313.9 552.8,313.7 553.3,313.6 553.8,313.6 554.3,313.9 554.8,314.1 555.3,313.6 555.8,313.5 556.3,313.7 556.8,313.7 557.3,313.6 557.8,313.3 558.3,313.1 558.8,313.3 559.3,313.1 559.8,312.9 560.3,312.8 560.8,312.7 561.3,312.5 561.8,312.7 562.3,313.1 562.8,312.8 563.3,312.6 563.8,312.5 564.3,312.4 564.8,312.2 565.3,312.7 565.8,313.2 566.3,312.9 566.8,312.7 567.3,312.5 567.8,312.3 568.3,312.2 568.8,312.0 569.3,311.9 569.8,312.3 570.3,312.4 570.8,312.4 571.3,312.0 571.8,311.8 572.3,312.3 572.8,312.5 573.3,312.4 573.8,312.1 574.3,311.7 574.8,311.8 575.3,311.8 575.8,311.8 576.3,311.9 576.8,312.0 577.3,311.9 577.8,311.8 578.3,311.4 578.8,311.7 579.3,312.3 579.8,312.1 580.3,311.9 580.8,312.1 581.3,312.2 581.8,312.2 582.3,311.9 582.8,311.6 583.3,311.7 583.8,311.8 584.3,311.8 584.8,311.8 585.3,311.8 585.8,311.6 586.3,311.4 586.8,311.3 587.3,311.3 587.8,311.4 588.3,311.2 588.8,311.1 589.3,311.1 589.8,311.0 590.3,310.6 590.8,310.9 591.3,311.3 591.8,311.0 592.3,310.9 592.8,310.9 593.3,311.0 593.8,311.1 594.3,311.1 594.8,311.3 595.3,311.6 595.8,311.5 596.3,311.1 596.8,310.7 597.3,310.5 597.8,310.8 598.3,310.8 598.8,310.6 599.3,310.8 599.8,310.9 600.3,310.6 600.8,310.5 601.3,310.4 601.8,310.4 602.3,310.5 602.8,310.4 603.3,310.3 603.8,310.0 604.3,310.0 604.8,310.2 605.3,310.4 605.8,310.5 606.3,310.7 606.8,310.7 607.3,310.3 607.8,310.2 608.3,310.2 608.8,310.4 609.3,310.5 609.8,310.5 610.3,310.6 610.8,310.8 611.3,310.6 611.8,310.4 612.3,310.2 612.8,310.3 613.3,310.6 613.8,310.7 614.3,310.6 614.8,310.2 615.3,310.0 615.8,310.1 616.3,309.8 616.8,309.5 617.3,309.8 617.8,309.9 618.3,309.7 618.8,309.8 619.3,309.9 619.8,309.9 620.3,309.8 620.8,309.9 621.3,309.9 621.8,309.9 622.3,310.0 622.8,310.1 623.3,310.0 623.8,309.9 624.3,309.7 624.8,309.6 625.3,309.5 625.8,310.0 626.3,310.3 626.8,310.4 627.3,310.1 627.8,309.7 628.3,309.9 628.8,309.9 629.3,309.4 629.8,309.2 630.3,309.2 630.8,309.5 631.3,309.7 631.8,310.1 632.3,310.0 632.8,309.5 633.3,309.4 633.8,309.5 634.3,310.0 634.8,310.0 635.3,309.2 635.8,309.4 636.3,309.9 636.8,309.9 637.3,309.8 637.8,309.6 638.3,309.6 638.8,309.7 639.3,310.2 639.8,310.4 640.3,309.6 640.8,309.3 641.3,309.4 641.8,309.5 642.3,309.5 642.8,309.4 643.3,309.2 643.8,309.1 644.3,309.5 644.8,310.1 645.3,309.8 645.8,309.4 646.3,309.0 646.8,309.0 647.3,309.2 647.8,309.4 648.3,309.6 648.8,309.6 649.3,309.4 649.8,308.9 650.3,309.1 650.8,309.3 651.3,309.4 651.8,309.5 652.3,309.5 652.8,309.5 653.3,309.5 653.8,309.0 654.3,308.9 654.8,309.6 655.3,309.7 655.8,309.4 656.3,309.6 656.8,309.9 657.3,310.2 657.8,309.9 658.3,309.3 658.8,309.0 659.3,308.8 659.8,309.2 660.3,309.4 660.8,309.2 661.3,309.1 661.8,309.0 662.3,308.9 662.8,308.9 663.3,309.5 663.8,309.5 664.3,309.0 664.8,308.8 665.3,308.6 665.8,308.8 666.3,308.9 666.8,308.7 667.3,308.9 667.8,309.1 668.3,309.0 668.8,308.9 669.3,308.7 669.8,308.9 670.3,309.3 670.8,309.0 671.3,308.9 671.8,309.2 672.3,309.4 672.8,309.5 673.3,309.2 673.8,308.9 674.3,308.9 674.8,308.9 675.3,309.1 675.8,309.3 676.3,309.4 676.8,309.2 677.3,309.1 677.8,309.2 678.3,309.2 678.8,309.1 679.3,309.2 679.8,309.3 680.3,309.4 680.8,309.2 681.3,308.9 681.8,309.0 682.3,309.0 682.8,309.2 683.3,309.1 683.8,309.0 684.3,309.1 684.8,309.3 685.3,309.4 685.8,309.4 686.3,309.3 686.8,309.2 687.3,309.0 687.8,309.0 688.3,309.2 688.8,309.7 689.3,309.8 689.8,309.6 690.3,309.2 690.8,308.9 691.3,309.0 691.8,309.3 692.3,309.9 692.8,310.0 693.3,309.9 693.8,309.7 694.3,309.6 694.8,309.9 695.3,309.6 695.8,309.1 696.3,309.4 696.8,309.8 697.3,310.0 697.8,309.7 698.3,309.2 698.8,309.4 699.3,309.7 699.8,310.1 700.3,310.4 700.8,310.6 701.3,310.2 701.8,309.8 702.3,310.1 702.8,310.4 703.3,310.8 703.8,310.5 704.3,309.9 704.8,309.7 705.3,309.6 705.8,309.8 706.3,309.7 706.8,309.2 707.3,309.2 707.8,309.1 708.3,308.4 708.8,307.8 709.3,307.2 709.8,307.6 710.3,308.2 710.8,307.1 711.3,306.7 711.8,307.3 712.3,308.2 712.8,309.1 713.3,309.7 713.8,309.9 714.3,309.7 714.8,309.7 715.3,309.7 715.8,309.4 716.3,309.0 716.8,308.4 717.3,308.2 717.8,308.4 718.3,308.3 718.8,308.2 719.3,308.1 719.8,308.0 720.3,308.1 720.8,308.1 721.3,307.9 721.8,308.6 722.3,309.1 722.8,309.3 723.3,308.8 723.8,307.9 724.3,308.5 724.8,309.1 725.3,309.0 725.8,308.8 726.3,308.3 726.8,309.0 727.3,309.8 727.8,309.5 728.3,309.3 728.8,309.4 729.3,309.3 729.8,309.2 730.3,309.7 730.8,310.0 731.3,310.0 731.8,309.9 732.3,309.6 732.8,309.6 733.3,309.6 733.8,309.4 734.3,309.2 734.8,309.3 735.3,309.1 735.8,308.8 736.3,309.0 736.8,309.0 737.3,308.8 737.8,308.9 738.3,309.1 738.8,309.2 739.3,309.2 739.8,309.1 740.3,309.1 740.8,309.3 741.3,309.7 741.8,309.7 742.3,308.3 742.8,307.9 743.3,308.5 743.8,308.4 744.3,308.2 744.8,308.2 745.3,308.1 745.8,307.8 746.3,308.0 746.8,308.3 747.3,308.2 747.8,308.0 748.3,307.9 748.8,307.9 749.3,307.9 749.8,307.8 750.3,307.6 750.8,307.1 751.3,307.3 751.8,308.2 752.3,308.0 752.8,307.6 753.3,307.4 753.8,307.4 754.3,307.7 754.8,307.6 755.3,307.3 755.8,306.8 756.3,306.8 756.8,307.6 757.3,307.5 757.8,306.7 758.3,307.0 758.8,307.3 759.3,307.4 759.8,307.6 760.3,307.9 760.8,307.9 761.3,307.9 761.8,307.5 762.3,307.2 762.8,306.9 763.3,306.9 763.8,307.0 764.3,307.4 764.8,307.7 765.3,307.9 765.8,307.7 766.3,307.3 766.8,307.0 767.3,306.8 767.8,307.2 768.3,307.2 768.8,306.7 769.3,306.6 769.8,306.5 770.3,306.5 770.8,306.6 771.3,306.8 771.8,306.7 772.3,306.6 772.8,306.8 773.3,306.9 773.8,306.9 774.3,306.7 774.8,306.5 775.3,305.7 775.8,305.0 776.3,305.1 776.8,305.4 777.3,305.9 777.8,305.9 778.3,305.9 778.8,306.5 779.3,306.6 779.8,305.9 780.3,305.7 780.8,305.6 781.3,305.9 781.8,306.1 782.3,306.1 782.8,305.9 783.3,305.5 783.8,305.7 784.3,305.8 784.8,305.4 785.3,305.2 785.8,305.3 786.3,305.9 786.8,306.5 787.3,305.8 787.8,305.7 788.3,306.5 788.8,306.8 789.3,306.8 789.8,306.9 790.3,307.1 790.8,307.3 791.3,307.4 791.8,307.4 792.3,306.8 792.8,306.4 793.3,306.8 793.8,307.2 794.3,307.4 794.8,307.9 795.3,308.4 795.8,307.9 796.3,307.7 796.8,307.9 797.3,308.1 797.8,308.3 798.3,308.9 798.8,309.1 799.3,308.3 799.8,308.1 800.3,308.1 800.8,308.7 801.3,309.0 801.8,308.3 802.3,308.3 802.8,309.0 803.3,309.0 803.8,308.8 804.3,308.5 804.8,308.4 805.3,308.8 805.8,308.8 806.3,308.6 806.8,309.0 807.3,309.2 807.8,309.3 808.3,309.5 808.8,309.8 809.3,309.5 809.8,309.1 810.3,309.1 810.8,309.0 811.3,308.8 811.8,308.8 812.3,309.0 812.8,309.2 813.3,309.0 813.8,308.1 814.3,308.3 814.8,308.9 815.3,308.5 815.8,308.2 816.3,308.3 816.8,308.3 817.3,308.3 817.8,308.3 818.3,308.3 818.8,308.1 819.3,307.8 819.8,307.5 820.3,307.6 820.8,307.7 821.3,307.5 821.8,307.4 822.3,307.2 822.8,307.2 823.3,307.3 823.8,307.5 824.3,307.5 824.8,307.3 825.3,307.2 825.8,307.2 826.3,306.8 826.8,306.5 827.3,306.9 827.8,306.8 828.3,306.3 828.8,306.8 829.3,307.4 829.8,306.9 830.3,306.9 830.8,307.5 831.3,308.0 831.8,308.5 832.3,307.6 832.8,307.0 833.3,307.5 833.8,307.6 834.3,307.3 834.8,307.0 835.3,306.8 835.8,306.7 836.3,306.9 836.8,307.3 837.3,307.6 837.8,307.8 838.3,307.5 838.8,307.1 839.3,306.6 839.8,306.6 840.3,306.7 840.8,306.9 841.3,307.3 841.8,307.7 842.3,307.7 842.8,307.5 843.3,307.4 843.8,307.5 844.3,307.8 844.8,307.7 845.3,307.4 845.8,307.3 846.3,307.4 846.8,307.4 847.3,307.2 847.8,306.8 848.3,307.1 848.8,307.8 849.3,307.8 849.8,307.8 850.3,308.0 850.8,307.7 851.3,307.1 851.8,307.2 852.3,307.4 852.8,308.0 853.3,308.2 853.8,308.0 854.3,308.3 854.8,308.5 855.3,307.9 855.8,307.7 856.3,308.0 856.8,308.0 857.3,307.8 857.8,308.1 858.3,308.3 858.8,308.1 859.3,308.2 859.8,308.5 860.3,308.7 860.8,308.9 861.3,308.8 861.8,308.5 862.3,307.8 862.8,308.3 863.3,309.1 863.8,309.0 864.3,308.8 864.8,308.4 865.3,308.3 865.8,308.4 866.3,308.7 866.8,309.0 867.3,309.2 867.8,309.1 868.3,308.9 868.8,308.6 869.3,308.5 869.8,309.1 870.3,309.4 870.8,309.4 871.3,309.9 871.8,310.4 872.3,309.4 872.8,309.2 873.3,310.4 873.8,310.6 874.3,310.4 874.8,310.0 875.3,309.9 875.8,310.3 876.3,310.2 876.8,309.8 877.3,310.0 877.8,310.1 878.3,309.6 878.8,309.5 879.3,309.8 879.8,309.6 880.3,309.3 880.8,309.1 881.3,309.2 881.8,309.6 882.3,309.6 882.8,309.5 883.3,309.9 883.8,310.2 884.3,310.4 884.8,310.3 885.3,309.9 885.8,309.9 886.3,310.0 886.8,310.0 887.3,309.8 887.8,309.2 888.3,309.6 888.8,310.1 889.3,310.0 889.8,310.0 890.3,310.0 890.8,309.8 891.3,309.5 891.8,309.3 892.3,309.3 892.8,309.8 893.3,310.1 893.8,310.3 894.3,310.6 894.8,310.9 895.3,310.9 895.8,310.9 896.3,311.1 896.8,311.0 897.3,310.8 897.8,311.2 898.3,311.3 898.8,311.1 899.3,311.3 899.8,311.7 900.3,311.6 900.8,311.8 901.3,312.0 901.8,312.2 902.3,312.5 902.8,312.7 903.3,312.9 903.8,313.1 904.3,313.4 904.8,313.6 905.3,313.8 905.8,314.0 906.3,314.2 906.8,314.5 907.3,314.7 907.8,315.0 908.3,315.2 908.8,315.5 909.3,315.7 909.8,316.0 910.3,316.3 910.8,316.5 911.3,316.8 911.8,317.1 912.3,317.4 912.8,317.7 913.3,318.0 913.8,318.3 914.3,318.7 914.8,319.0 915.3,319.3 915.8,319.6 916.3,320.0 916.8,320.5 917.3,320.9 917.8,321.4 918.3,322.0 918.8,322.5 919.3,323.1 919.8,323.8 920.3,324.4 920.8,325.1 921.3,326.0 921.8,327.1 922.3,328.5 922.8,330.2 923.3,332.0 923.8,333.9 924.3,336.0 924.8,338.8 925.3,342.5 925.8,347.0 926.3,352.5 926.8,360.5 927.3,370.2 927.8,381.6 928.3,395.2 928.8,411.5 929.3,430.2 929.8,453.0 930.3,472.8 930.8,485.6 931.3,497.8 931.8,516.0 932.3,541.3 932.8,562.8 933.3,581.3 933.8,598.0 934.3,612.7 934.8,626.2 935.3,638.4 935.8,649.1 936.3,659.0 936.8,668.4 937.3,677.8 937.8,687.2 938.3,693.2 938.8,694.6 939.3,694.1 939.8,691.2 940.3,684.3 940.8,672.9 941.3,659.8 941.8,646.4 942.3,632.7 942.8,619.3 943.3,605.8 943.8,591.5 944.3,574.9 944.8,558.6 945.3,543.1 945.8,528.8 946.3,515.4 946.8,502.3 947.3,489.8 947.8,476.5 948.3,461.7 948.8,448.0 949.3,435.4 949.8,425.2 950.3,417.1 950.8,410.3 951.3,404.7 951.8,399.2 952.3,394.0 952.8,389.3 953.3,385.3 953.8,381.5 954.3,377.9 954.8,374.8 955.3,371.5 955.8,367.8 956.3,364.9 956.8,362.2 957.3,359.1 957.8,356.2 958.3,353.5 958.8,350.7 959.3,347.9 959.8,345.5 960.3,343.2 960.8,340.6 961.3,338.4 961.8,336.7 962.3,335.4 962.8,334.4 963.3,333.5 963.8,333.2 964.3,333.5 964.8,334.2 965.3,335.2 965.8,337.0 966.3,340.6 966.8,345.1 967.3,350.5 967.8,356.2 968.3,361.2 968.8,365.5 969.3,367.5 969.8,366.0 970.3,362.7 970.8,358.5 971.3,353.9 971.8,349.2 972.3,345.8 972.8,343.7 973.3,342.5 973.8,341.9 974.3,341.5 974.8,341.9 975.3,342.3 975.8,340.7 976.3,337.4 976.8,334.1 977.3,332.3 977.8,331.2 978.3,330.4 978.8,330.1 979.3,330.2 979.8,331.2 980.3,332.3 980.8,332.8 981.3,332.3 981.8,330.9 982.3,329.2 982.8,327.9 983.3,326.8 983.8,325.5 984.3,324.6 984.8,323.9 985.3,323.3 985.8,322.9 986.3,322.5 986.8,322.2 987.3,321.9 987.8,321.7 988.3,321.5 988.8,321.4 989.3,321.3 989.8,321.4 990.3,321.8 990.8,322.3 991.3,322.8 991.8,323.3 992.3,324.0 992.8,324.7 993.3,325.5 993.8,326.5 994.3,327.5 994.8,328.5 995.3,329.4 995.8,330.2 996.3,331.5 996.8,333.0 997.3,334.9 997.8,337.3 998.3,339.9 998.8,342.7 999.3,345.6 999.8,348.7 1000.3,351.8 1000.8,355.3 1001.3,358.4 1001.8,361.4 1002.3,364.3 1002.8,367.2 1003.3,370.0 1003.8,373.2 1004.3,376.3 1004.8,379.3 1005.3,382.2 1005.8,384.9 1006.3,387.5 1006.8,389.7 1007.3,391.5 1007.8,392.8 1008.3,393.4 1008.8,393.0 1009.3,391.7 1009.8,390.0 1010.3,388.4 1010.8,387.3 1011.3,386.1 1011.8,384.2 1012.3,380.3 1012.8,375.3 1013.3,370.8 1013.8,366.6 1014.3,362.5 1014.8,358.5 1015.3,354.7 1015.8,351.1 1016.3,347.7 1016.8,344.8 1017.3,342.3 1017.8,340.3 1018.3,338.6 1018.8,337.3 1019.3,336.5 1019.8,335.9 1020.3,335.5 1020.8,335.3 1021.3,335.3 1021.8,335.6 1022.3,336.3 1022.8,337.4 1023.3,339.0 1023.8,341.3 1024.3,344.3 1024.8,347.6 1025.3,351.1 1025.8,354.6 1026.3,358.3 1026.8,362.3 1027.3,366.6 1027.8,371.4 1028.3,376.5 1028.8,381.7 1029.3,386.7 1029.8,391.6 1030.3,396.5 1030.8,401.1 1031.3,405.4 1031.8,409.1 1032.3,412.2 1032.8,414.6 1033.3,416.2 1033.8,417.3 1034.3,418.0 1034.8,417.8 1035.3,416.4 1035.8,414.1 1036.3,411.7 1036.8,409.4 1037.3,407.2 1037.8,405.4 1038.3,404.7 1038.8,404.8 1039.3,404.9 1039.8,404.2 1040.3,401.8 1040.8,398.2 1041.3,394.2 1041.8,389.6 1042.3,384.6 1042.8,380.4 1043.3,377.4 1043.8,375.4 1044.3,374.6 1044.8,375.0 1045.3,376.4 1045.8,379.1 1046.3,382.9 1046.8,387.5 1047.3,392.3 1047.8,397.1 1048.3,402.4 1048.8,407.6 1049.3,412.5 1049.8,416.8 1050.3,420.5 1050.8,421.8 1051.3,418.6 1051.8,411.7 1052.3,405.8 1052.8,400.1 1053.3,395.4 1053.8,392.0 1054.3,389.7 1054.8,388.5 1055.3,388.4 1055.8,388.7 1056.3,389.4 1056.8,390.4 1057.3,392.1 1057.8,394.3 1058.3,396.5 1058.8,397.9 1059.3,398.6 1059.8,399.1 1060.3,399.4 1060.8,399.4 1061.3,399.0 1061.8,398.3 1062.3,397.5 1062.8,396.7 1063.3,395.8 1063.8,394.8 1064.3,394.2 1064.8,394.6 1065.3,395.7 1065.8,396.7 1066.3,397.4 1066.8,398.0 1067.3,398.4 1067.8,398.4 1068.3,398.2 1068.8,397.8 1069.3,397.3 1069.8,396.7 1070.3,395.8 1070.8,394.7 1071.3,393.6 1071.8,392.9 1072.3,392.5 1072.8,392.3 1073.3,392.1 1073.8,392.2 1074.3,392.5 1074.8,392.9 1075.3,393.3 1075.8,393.7 1076.3,393.9 1076.8,394.0 1077.3,394.2 1077.8,395.3 1078.3,397.5 1078.8,400.4 1079.3,404.6 1079.8,409.9 1080.3,414.2 1080.8,416.8 1081.3,417.9 1081.8,416.3 1082.3,413.4 1082.8,411.7 1083.3,411.7 1083.8,412.5 1084.3,414.2 1084.8,417.3 1085.3,421.7 1085.8,426.7 1086.3,432.0 1086.8,437.9 1087.3,444.2 1087.8,451.8 1088.3,460.1 1088.8,466.8 1089.3,472.1 1089.8,473.8 1090.3,472.0 1090.8,469.4 1091.3,466.8 1091.8,464.1 1092.3,461.3 1092.8,459.0 1093.3,457.8 1093.8,457.5 1094.3,457.7 1094.8,458.3 1095.3,459.4 1095.8,460.9 1096.3,462.6 1096.8,464.7 1097.3,467.0 1097.8,469.4 1098.3,471.5 1098.8,473.0 1099.3,474.5 1099.8,475.8 1100.3,477.2 1100.8,478.5 1101.3,479.7 1101.8,480.7 1102.3,482.3 1102.8,484.9 1103.3,488.3 1103.8,491.9 1104.3,495.3 1104.8,498.6 1105.3,501.8 1105.8,505.0 1106.3,508.3 1106.8,511.7 1107.3,515.1 1107.8,518.6 1108.3,522.1 1108.8,525.5 1109.3,529.0 1109.8,532.6 1110.3,536.1 1110.8,539.1 1111.3,541.1 1111.8,541.8 1112.3,541.6 1112.8,540.5 1113.3,538.8 1113.8,536.6 1114.3,533.4 1114.8,530.1 1115.3,528.2 1115.8,526.9 1116.3,526.0 1116.8,525.6 1117.3,525.7 1117.8,526.0 1118.3,526.4 1118.8,527.0 1119.3,527.7 1119.8,528.8 1120.3,530.3 1120.8,532.1 1121.3,535.1 1121.8,539.4 1122.3,545.0 1122.8,551.7 1123.3,558.8 1123.8,566.0 1124.3,572.8 1124.8,579.6 1125.3,586.3 1125.8,592.8 1126.3,598.9 1126.8,604.3 1127.3,609.2 1127.8,613.4 1128.3,617.0 1128.8,620.2 1129.3,623.0 1129.8,625.6 1130.3,627.8 1130.8,629.8 1131.3,631.4 1131.8,632.5 1132.3,633.5 1132.8,634.5 1133.3,636.1 1133.8,638.6 1134.3,642.3 1134.8,646.7 1135.3,652.1 1135.8,658.2 1136.3,664.1 1136.8,669.3 1137.3,673.8 1137.8,677.0 1138.3,678.4 1138.8,678.1 1139.3,675.7 1139.8,671.4 1140.3,665.3 1140.8,658.1 1141.3,651.4 1141.8,645.2 1142.3,639.3 1142.8,634.3 1143.3,630.1 1143.8,628.2 1144.3,629.1 1144.8,631.0 1145.3,633.1 1145.8,635.7 1146.3,637.9 1146.8,638.7 1147.3,638.4 1147.8,636.6 1148.3,632.3 1148.8,626.4 1149.3,619.1 1149.8,610.4 1150.3,600.7 1150.8,590.3 1151.3,579.3 1151.8,567.8 1152.3,555.7 1152.8,543.2 1153.3,529.8 1153.8,514.8 1154.3,500.0 1154.8,486.8 1155.3,474.6 1155.8,463.4 1156.3,453.3 1156.8,444.3 1157.3,436.5 1157.8,429.6 1158.3,423.8 1158.8,419.3 1159.3,415.7 1159.8,412.8 1160.3,410.7 1160.8,409.4 1161.3,408.5 1161.8,408.1 1162.3,408.4 1162.8,410.2 1163.3,413.4 1163.8,418.5 1164.3,424.9 1164.8,431.9 1165.3,439.7 1165.8,447.4 1166.3,454.3 1166.8,460.6 1167.3,466.0 1167.8,470.2 1168.3,473.1 1168.8,474.6 1169.3,475.2 1169.8,475.4 1170.3,475.9 1170.8,477.1 1171.3,479.1 1171.8,481.6 1172.3,484.5 1172.8,488.1 1173.3,492.3 1173.8,496.0 1174.3,499.1 1174.8,501.7 1175.3,503.2 1175.8,503.6 1176.3,503.2 1176.8,501.6 1177.3,499.2 1177.8,496.3 1178.3,493.5 1178.8,490.6 1179.3,487.6 1179.8,484.6 1180.3,481.5 1180.8,478.3 1181.3,475.2 1181.8,472.1 1182.3,469.0 1182.8,466.0 1183.3,463.0 1183.8,460.1 1184.3,457.1 1184.8,454.2 1185.3,451.3 1185.8,448.5 1186.3,445.9 1186.8,443.5 1187.3,441.7 1187.8,440.8 1188.3,440.5 1188.8,440.5 1189.3,440.4 1189.8,440.1 1190.3,439.7 1190.8,439.1 1191.3,438.5 1191.8,437.7 1192.3,436.5 1192.8,434.9 1193.3,433.4 1193.8,432.2 1194.3,431.5 1194.8,431.1 1195.3,430.9 1195.8,431.0 1196.3,431.5 1196.8,432.5 1197.3,433.9 1197.8,436.1 1198.3,439.2 1198.8,442.7 1199.3,446.8 1199.8,451.3 1200.3,455.2 1200.8,458.2 1201.3,460.3 1201.8,461.4 1202.3,460.8 1202.8,458.8 1203.3,455.3 1203.8,449.6 1204.3,445.2 1204.8,442.8 1205.3,441.2 1205.8,440.9 1206.3,441.7 1206.8,442.8 1207.3,443.9 1207.8,444.9 1208.3,445.9 1208.8,446.7 1209.3,447.2 1209.8,447.3 1210.3,447.1 1210.8,446.8 1211.3,446.5 1211.8,446.4 1212.3,446.5 1212.8,446.7 1213.3,447.0 1213.8,447.2 1214.3,447.2 1214.8,446.9 1215.3,446.1 1215.8,445.1 1216.3,444.0 1216.8,442.7 1217.3,441.4 1217.8,439.9 1218.3,438.4 1218.8,436.8 1219.3,435.2 1219.8,433.7 1220.3,432.2 1220.8,430.6 1221.3,428.7 1221.8,426.4 1222.3,423.0 1222.8,418.7 1223.3,414.2 1223.8,410.3 1224.3,406.5 1224.8,402.8 1225.3,399.4 1225.8,396.5 1226.3,393.9 1226.8,391.6 1227.3,389.5 1227.8,387.5 1228.3,385.5 1228.8,383.6 1229.3,381.7 1229.8,380.0 1230.3,378.4 1230.8,377.1 1231.3,375.9 1231.8,374.8 1232.3,373.9 1232.8,373.0 1233.3,372.3 1233.8,371.6 1234.3,371.0 1234.8,370.5 1235.3,370.2 1235.8,370.1 1236.3,370.1 1236.8,370.2 1237.3,370.3 1237.8,370.5 1238.3,370.6 1238.8,370.6 1239.3,370.5 1239.8,370.4 1240.3,370.2 1240.8,369.8 1241.3,369.4 1241.8,368.8 1242.3,368.0 1242.8,367.0 1243.3,365.9 1243.8,364.8 1244.3,363.8 1244.8,362.9 1245.3,362.0 1245.8,361.1 1246.3,360.3 1246.8,359.5 1247.3,358.8 1247.8,358.2 1248.3,357.7 1248.8,357.3 1249.3,356.9 1249.8,356.6 1250.3,356.4 1250.8,356.2 1251.3,356.2 1251.8,356.1 1252.3,356.2 1252.8,356.2 1253.3,356.4 1253.8,357.2 1254.3,358.5 1254.8,360.1 1255.3,363.2 1255.8,367.5 1256.3,370.1 1256.8,370.1 1257.3,369.2 1257.8,368.7 1258.3,369.6 1258.8,371.5 1259.3,374.4 1259.8,378.4 1260.3,384.1 1260.8,391.1 1261.3,399.7 1261.8,409.8 1262.3,418.2 1262.8,425.4 1263.3,431.6 1263.8,436.5 1264.3,439.2 1264.8,438.2 1265.3,432.0 1265.8,421.1 1266.3,407.8 1266.8,393.8 1267.3,380.0 1267.8,369.4 1268.3,362.4 1268.8,359.2 1269.3,357.4 1269.8,356.4 1270.3,356.3 1270.8,356.5 1271.3,357.1 1271.8,358.1 1272.3,359.8 1272.8,362.2 1273.3,365.0 1273.8,368.5 1274.3,372.2 1274.8,375.7 1275.3,378.7 1275.8,381.4 1276.3,383.9 1276.8,385.8 1277.3,387.2 1277.8,387.6 1278.3,386.7 1278.8,384.3 1279.3,381.3 1279.8,377.0 1280.3,372.9 1280.8,370.6 1281.3,369.2 1281.8,368.3 1282.3,368.1 1282.8,368.3 1283.3,368.8 1283.8,369.5 1284.3,370.5 1284.8,371.7 1285.3,372.0 1285.8,371.8 1286.3,371.2 1286.8,370.3 1287.3,368.8 1287.8,367.1 1288.3,365.6 1288.8,364.8 1289.3,364.5 1289.8,364.4 1290.3,364.4 1290.8,364.1 1291.3,363.5 1291.8,362.5 1292.3,361.3 1292.8,360.0 1293.3,358.9 1293.8,357.9 1294.3,357.0 1294.8,356.0 1295.3,355.3 1295.8,354.9 1296.3,354.9 1296.8,355.1 1297.3,355.5 1297.8,355.9 1298.3,356.4 1298.8,357.0 1299.3,357.6 1299.8,358.0 1300.3,357.9 1300.8,357.0 1301.3,356.0 1301.8,355.7 1302.3,355.8 1302.8,356.0 1303.3,355.8 1303.8,354.8 1304.3,353.4 1304.8,352.2 1305.3,351.4 1305.8,350.7 1306.3,350.1 1306.8,349.7 1307.3,349.4 1307.8,349.3 1308.3,349.3 1308.8,349.3 1309.3,349.4 1309.8,349.5 1310.3,349.9 1310.8,350.7 1311.3,352.1 1311.8,353.9 1312.3,355.8 1312.8,357.8 1313.3,359.6 1313.8,361.4 1314.3,363.2 1314.8,365.0 1315.3,367.1 1315.8,369.6 1316.3,372.0 1316.8,373.7 1317.3,375.0 1317.8,376.1 1318.3,377.1 1318.8,378.4 1319.3,379.2 1319.8,379.8 1320.3,381.0 1320.8,381.6 1321.3,381.8 1321.8,381.7 1322.3,381.2 1322.8,379.7 1323.3,378.0 1323.8,377.1 1324.3,375.5 1324.8,373.3 1325.3,373.0 1325.8,373.1 1326.3,373.1 1326.8,373.6 1327.3,374.2 1327.8,374.0 1328.3,373.8 1328.8,373.9 1329.3,373.6 1329.8,373.1 1330.3,372.7 1330.8,372.6 1331.3,377.8 1331.8,383.9 1332.3,382.3 1332.8,379.1 1333.3,376.9 1333.8,375.1 1334.3,374.8 1334.8,378.3 1335.3,381.6 1335.8,380.4 1336.3,377.3 1336.8,378.3 1337.3,381.4 1337.8,384.5 1338.3,387.5 1338.5,388.6" fill="none" stroke="#f00" stroke-width="1.05" stroke-linejoin="round"/>
<rect x="125.55" y="17.7" width="1214.1" height="719.7" fill="none" stroke="#000" stroke-width="2.8" stroke-linejoin="round"/>
<path d="M125.50,737.4V751.6M304.04,737.4V751.6M482.58,737.4V751.6M661.12,737.4V751.6M839.67,737.4V751.6M1018.21,737.4V751.6M1196.75,737.4V751.6M214.77,737.4V744.6M393.31,737.4V744.6M571.85,737.4V744.6M750.40,737.4V744.6M928.94,737.4V744.6M1107.48,737.4V744.6M1286.02,737.4V744.6" stroke="#000" stroke-width="2.8" fill="none"/>
<g font-family="'Liberation Sans', Arial, sans-serif" fill="#000">
<g font-size="28" text-anchor="middle">
<text transform="translate(125.5,783.5) scale(1,1.075)">4000</text>
<text transform="translate(304.0,783.5) scale(1,1.075)">3500</text>
<text transform="translate(482.6,783.5) scale(1,1.075)">3000</text>
<text transform="translate(661.1,783.5) scale(1,1.075)">2500</text>
<text transform="translate(839.7,783.5) scale(1,1.075)">2000</text>
<text transform="translate(1018.2,783.5) scale(1,1.075)">1500</text>
<text transform="translate(1196.8,783.5) scale(1,1.075)">1000</text>
</g>
<text x="597" y="842.8" font-size="31.1">Wavenumber (cm<tspan font-size="17.3" dy="-17.2" dx="0">-1</tspan><tspan dy="17.2" dx="1.5">)</tspan></text>
<text transform="translate(43.8,521.7) rotate(-90) scale(1,1.06)" font-size="30.95">Transmittance a.u</text>
<text x="156.4" y="72.1" font-size="31.3">PUA</text>
<text x="142.6" y="288.8" font-size="31.3">FPUA</text>
<text x="304.1" y="367.8" font-size="22.4">3379cm<tspan font-size="12" dy="-12.5" dx="0.2">-1</tspan></text>
<text x="529.0" y="382.2" font-size="22.4">2868 cm<tspan font-size="12" dy="-12.5" dx="0.2">-1</tspan></text>
<text x="445.6" y="429.3" font-size="22.4">2952 cm<tspan font-size="12" dy="-12.5" dx="0.2">-1</tspan></text>
<text x="996.5" y="507.3" font-size="22.4">1296 cm<tspan font-size="12" dy="-12.5" dx="0.2">-1</tspan></text>
<text x="1012.1" y="579.7" font-size="22.4">1235 cm<tspan font-size="12" dy="-12.5" dx="0.2">-1</tspan></text>
<text x="890.9" y="720.5" font-size="22.4">1722 cm<tspan font-size="12" dy="-12.5" dx="0.2">-1</tspan></text>
<text x="1082.4" y="699.2" font-size="22.4">1160 cm<tspan font-size="12" dy="-12.5" dx="0.2">-1</tspan></text>
<text x="1166.0" y="539.1" font-size="22.4">1050 cm<tspan font-size="12" dy="-12.5" dx="0.2">-1</tspan></text>
</g></svg>
</body></html>
